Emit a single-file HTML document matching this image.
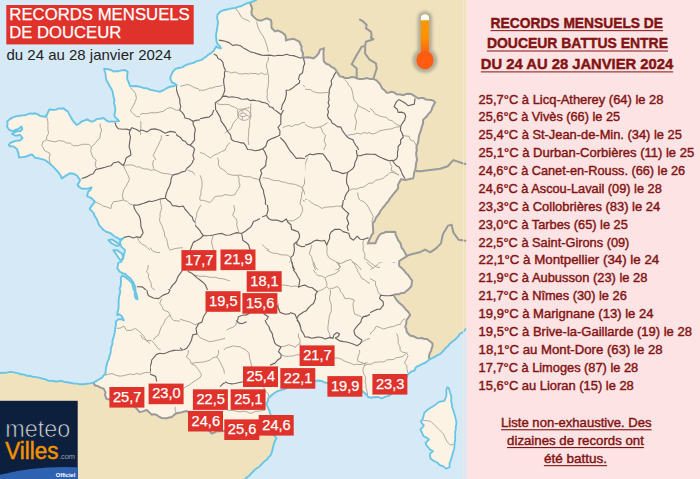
<!DOCTYPE html>
<html><head><meta charset="utf-8"><title>Records mensuels de douceur</title>
<style>html,body{margin:0;padding:0;width:700px;height:479px;overflow:hidden;background:#fde3e3;}
svg{display:block;font-family:"Liberation Sans",sans-serif;}</style></head>
<body><svg width="700" height="479" viewBox="0 0 700 479">
<rect x="0" y="0" width="470" height="479" fill="#d5e9f7"/>
<path d="M255,0 470,0 470,328 470,326 468.2,327.9 465.8,328.9 464,330.8 462.3,332.7 459.8,333.8 458.3,336.3 456.3,338.3 454.3,340.3 451.9,341.9 449.7,343.7 448.1,346.1 445.8,347.8 444,350 442.1,352.1 440.2,354.2 437.3,355.2 434.9,356.9 432.2,358.1 429.5,359.3 428.9,356.4 429.7,353.4 430.9,351.1 431.7,348.4 432.6,346 432.4,343.3 429.9,341.2 427.1,338.9 424.3,338.9 421.9,338 419.3,338.3 416.8,338 413.5,336.3 410,335.5 406.7,331.9 406.4,329.1 405.2,326.8 406.3,323.5 406.5,320 408.4,317.6 410.1,315.1 408.7,312.4 406.6,310.3 404.3,307.6 401.9,305 399.1,302.7 396.7,300.1 395,297.6 393.7,294.9 396,294.2 398.7,294.3 401.3,293.1 404,293.1 406,291.2 408.2,289.7 411.3,286.2 411.7,283.4 412.2,280.8 410,277.8 408.1,274.9 405.6,272.7 403.7,270 401.6,267.9 399.3,266.1 399.1,263.8 399.3,261 402.9,258.7 406.7,256.3 405,252.8 403.4,249.8 401.6,247.7 401,245.1 400.1,242.6 398.3,240.5 397.3,238.1 395.9,235.2 395.1,231.9 392,231.7 389,231.9 386,231.7 383.7,233.1 381.1,233.6 379.2,235.4 377.8,237.7 376.5,240.4 375.4,243.2 371.5,243.3 367.9,243.5 369.2,240.1 370.4,237.7 371.5,235.2 373.2,233.1 373.1,230.5 373.1,228 372.8,225.5 372.8,223 374.9,220.7 375.8,217.9 377.6,215.6 379.4,213.2 380.4,210.9 381.9,209 383.5,207 385.1,205.1 386.7,203 388.4,201.1 389.6,198.8 391.3,196.9 392.8,194.9 394.6,192.6 396.5,190.5 398.1,188.1 398.1,184.9 399.4,182.1 401.2,179.2 405,179.9 407.7,179.6 410.3,178.7 413.1,178.4 413.8,175.4 414.1,172.6 415.1,170 415.7,167.5 415.9,165 416.2,162.5 417.1,160.1 416.5,156.7 416.1,153.5 416.8,150.2 416.4,146.7 417.8,143.5 418.5,140.1 418.8,136.6 419.8,133.3 421,130.1 421.8,126.8 423,123.5 423.1,120 425,117.9 427,116.1 428.5,113.8 430.5,112 431.8,109.4 432.6,106.7 435.1,102.5 433.6,100.8 431.1,100.1 428.5,99.7 425.8,99.6 423.5,98.1 420.9,98 418.4,98.5 415.8,96.9 413.2,95.2 411,93.9 408.3,93.8 405.9,94.1 403.4,95.1 400.1,94.4 396.7,94.3 394.4,92.6 391.7,91.7 389.2,92.4 386.7,92.7 384.7,90.4 382.3,88.6 381,86 379.6,83.5 376.4,80.3 373.5,78.9 370,79.1 366.8,78.1 364.2,78.7 361.6,79 359.2,78.9 356.7,78.2 354.3,77.3 351.6,77.1 348.5,78.1 344.9,78.2 342.7,76.8 339.8,76.4 338.5,74 336.9,72.1 335.8,69.8 334,68 331.3,66.8 329.1,64.8 326.3,63.8 324.1,61.8 323.6,59.3 323.5,56.6 323.5,53.8 323.6,51.1 323.8,48.4 320.2,49.5 318.6,53.4 316.3,56.2 313.4,58.4 311.1,57.7 308.6,57.3 305.5,57.5 302.6,57.2 303,53.3 301.3,49.8 301.6,46.7 300.5,44.5 299.7,42 296.8,40.4 293.6,38.8 290.9,39.3 288.4,39.5 285.9,40.3 285.8,37.5 285.1,35.1 282.7,32.9 279.8,31.3 277.6,30.5 275.1,31.4 271.8,28.3 271.4,25.6 271.5,22.8 270.8,20 266.7,18.3 264,19.3 261.5,20.6 259.2,20.5 256.8,19.7 254.3,17.4 251.8,14.9 251.4,11.7 252.2,8.4 251,5.4 250.1,2.5 Z" fill="#efe2bc"/>
<path d="M0,373 2.5,372.8 5,372.9 7.5,372.4 10,371.8 12.6,372.1 15.1,372.6 17.6,373.1 20,374.2 22.5,374.3 25,374.9 27.4,376 30,375.8 32.5,376.7 35,376.9 37.5,377.4 40,377.9 42.5,378.7 45.1,379.1 47.5,380.4 50,381.1 52.5,380.6 55,381.5 57.5,381.5 60,380.8 62.5,381.2 65,382.1 67.5,382.2 70,382.7 72.5,383.3 75,383.6 77.5,383.6 80,384.3 83.4,384.2 86.7,383.8 90.1,383.4 93.4,382.6 94.9,385.3 98.6,386.4 100.8,387.9 103.5,388.3 105.5,392.1 105.1,395.1 106.4,398.7 110.2,399.8 112.7,400.2 115.1,401 117.6,401.3 120,402.1 122.9,402.5 125.5,403.9 128.4,404.5 131.2,405.3 134,406 136.1,407.9 137.8,410 139.7,412.1 143.4,411.1 146.7,410 149.1,412.3 151.6,414.4 154.3,414.3 156.7,414.9 159,416.7 161.5,418 164.1,418.3 166.7,418.2 169.2,417.5 171.8,417.1 174.1,414.9 176.6,413.3 179.3,412.7 181.9,412.2 184.3,411.5 186.8,411 189.9,414.1 191.9,415.8 194.2,416.9 196.1,418.6 198.1,420.2 200,422.1 201.7,424.2 204.2,425.5 206,427.6 208.2,429.3 209.9,431.5 211.8,433.5 214.3,432.6 216.6,431.3 220.4,431.3 224,430.7 226.7,430.9 229.3,431.2 232,431.6 234.7,431.5 237.3,431.9 240,432.3 242.5,432.4 245,432.5 247.5,432.4 250,433 252.5,433 255,432.7 257.6,432.9 260.2,433.3 262.8,434.1 265.4,433.7 268,434.2 271,434.2 274,435 276.5,438.3 275,440.9 274,443.6 273.2,446.8 272.4,450 271.6,452.8 270.5,455.4 268.4,457.5 266.6,459.8 264.5,461.3 262.7,463.2 260.9,465 259.2,467 256.9,468.2 254.7,469.7 253,471.8 251,473.6 249.3,475.7 247.1,477.3 245,479 0,479 Z" fill="#efe2bc"/>
<path d="M250.1,2.5 251,5.4 252.2,8.4 251.4,11.7 251.8,14.9 254.3,17.4 256.8,19.7 259.2,20.5 261.5,20.6 264,19.3 266.7,18.3 270.8,20 271.5,22.8 271.4,25.6 271.8,28.3 275.1,31.4 277.6,30.5 279.8,31.3 282.7,32.9 285.1,35.1 285.8,37.5 285.9,40.3 288.4,39.5 290.9,39.3 293.6,38.8 296.8,40.4 299.7,42 300.5,44.5 301.6,46.7 301.3,49.8 303,53.3 302.6,57.2 305.5,57.5 308.6,57.3 311.1,57.7 313.4,58.4 316.3,56.2 318.6,53.4 320.2,49.5 323.8,48.4 323.6,51.1 323.5,53.8 323.5,56.6 323.6,59.3 324.1,61.8 326.3,63.8 329.1,64.8 331.3,66.8 334,68 335.8,69.8 336.9,72.1 338.5,74 339.8,76.4 342.7,76.8 344.9,78.2 348.5,78.1 351.6,77.1 354.3,77.3 356.7,78.2 359.2,78.9 361.6,79 364.2,78.7 366.8,78.1 370,79.1 373.5,78.9 376.4,80.3 379.6,83.5 381,86 382.3,88.6 384.7,90.4 386.7,92.7 389.2,92.4 391.7,91.7 394.4,92.6 396.7,94.3 400.1,94.4 403.4,95.1 405.9,94.1 408.3,93.8 411,93.9 413.2,95.2 415.8,96.9 418.4,98.5 420.9,98 423.5,98.1 425.8,99.6 428.5,99.7 431.1,100.1 433.6,100.8 435.1,102.5 432.6,106.7 431.8,109.4 430.5,112 428.5,113.8 427,116.1 425,117.9 423.1,120 423,123.5 421.8,126.8 421,130.1 419.8,133.3 418.8,136.6 418.5,140.1 417.8,143.5 416.4,146.7 416.8,150.2 416.1,153.5 416.5,156.7 417.1,160.1 416.2,162.5 415.9,165 415.7,167.5 415.1,170 414.1,172.6 413.8,175.4 413.1,178.4 410.3,178.7 407.7,179.6 405,179.9 401.2,179.2 399.4,182.1 398.1,184.9 398.1,188.1 396.5,190.5 394.6,192.6 392.8,194.9 391.3,196.9 389.6,198.8 388.4,201.1 386.7,203 385.1,205.1 383.5,207 381.9,209 380.4,210.9 379.4,213.2 377.6,215.6 375.8,217.9 374.9,220.7 372.8,223 372.8,225.5 373.1,228 373.1,230.5 373.2,233.1 371.5,235.2 370.4,237.7 369.2,240.1 367.9,243.5 371.5,243.3 375.4,243.2 376.5,240.4 377.8,237.7 379.2,235.4 381.1,233.6 383.7,233.1 386,231.7 389,231.9 392,231.7 395.1,231.9 395.9,235.2 397.3,238.1 398.3,240.5 400.1,242.6 401,245.1 401.6,247.7 403.4,249.8 405,252.8 406.7,256.3 402.9,258.7 399.3,261 399.1,263.8 399.3,266.1 401.6,267.9 403.7,270 405.6,272.7 408.1,274.9 410,277.8 412.2,280.8 411.7,283.4 411.3,286.2 408.2,289.7 406,291.2 404,293.1 401.3,293.1 398.7,294.3 396,294.2 393.7,294.9 395,297.6 396.7,300.1 399.1,302.7 401.9,305 404.3,307.6 406.6,310.3 408.7,312.4 410.1,315.1 408.4,317.6 406.5,320 406.3,323.5 405.2,326.8 406.4,329.1 406.7,331.9 410,335.5 413.5,336.3 416.8,338 419.3,338.3 421.9,338 424.3,338.9 427.1,338.9 429.9,341.2 432.4,343.3 432.6,346 431.7,348.4 430.9,351.1 429.7,353.4 428.9,356.4 429.5,359.3 426.9,361.6 424.8,363 422.4,363.8 419.3,365.6 416.2,366.8 414.4,370.5 411.7,371.4 409.5,372.9 407.8,374.6 406.5,377.4 404.8,379.8 403.6,382.2 401.6,383.9 400.2,386.2 397.6,388 395.6,390.3 393.8,392.6 391,394.1 388.4,395.9 384.9,396.8 381.8,398.4 378.5,397.1 375.9,397 373.5,397.3 370.8,397.7 368.2,397 365.2,393.3 362.7,391.6 360.3,389.9 357.8,388.3 355.2,386.9 352.5,385.6 350.1,383.5 347.4,383.8 345,383.1 342.5,382.3 340,381.8 337,382.3 333.9,382.7 330.9,382.8 328.1,383.2 324.5,382.4 321.5,380.9 318.1,380.5 314.9,381 312.5,382.2 309.9,382.8 307.2,383.1 304.7,384 302.2,385 299.5,385.4 296.8,385.9 294.1,386.2 291.5,387.1 288.9,387.4 286.5,388 284.2,389.3 281.8,389.9 279.3,390.7 276.6,391.5 274.2,393.2 271.8,395 268.2,398.3 268.1,401 266.4,403.5 267.2,406 268.2,408.5 269.5,410.8 270,413.4 271.5,416.6 272.1,420 272.6,422.6 272.6,425.3 273.2,428 273.9,431.4 274,435 271,434.2 268,434.2 265.4,433.7 262.8,434.1 260.2,433.3 257.6,432.9 255,432.7 252.5,433 250,433 247.5,432.4 245,432.5 242.5,432.4 240,432.3 237.3,431.9 234.7,431.5 232,431.6 229.3,431.2 226.7,430.9 224,430.7 220.4,431.3 216.6,431.3 214.3,432.6 211.8,433.5 209.9,431.5 208.2,429.3 206,427.6 204.2,425.5 201.7,424.2 200,422.1 198.1,420.2 196.1,418.6 194.2,416.9 191.9,415.8 189.9,414.1 186.8,411 184.3,411.5 181.9,412.2 179.3,412.7 176.6,413.3 174.1,414.9 171.8,417.1 169.2,417.5 166.7,418.2 164.1,418.3 161.5,418 159,416.7 156.7,414.9 154.3,414.3 151.6,414.4 149.1,412.3 146.7,410 143.4,411.1 139.7,412.1 137.8,410 136.1,407.9 134,406 131.2,405.3 128.4,404.5 125.5,403.9 122.9,402.5 120,402.1 117.6,401.3 115.1,401 112.7,400.2 110.2,399.8 106.4,398.7 105.1,395.1 105.5,392.1 103.5,388.3 100.8,387.9 98.6,386.4 94.9,385.3 93.4,382.6 96.7,380.9 99.2,379.2 102,377.8 103.5,375.6 105.5,373.5 105.7,370 106.3,366.6 107,364.1 107.5,361.6 108.8,359.3 109.4,356.7 110.1,354.3 110.8,351.8 110.8,349.1 111.4,346.6 112.5,344 112.4,341.1 113.2,338.4 114.1,335.2 114.8,332 115,329.4 115.5,326.9 116,324.4 115.8,321.7 118.4,319.1 121.4,319.2 123.9,320.3 121.7,316.1 119.1,314.2 117.3,315.1 117.5,312.3 118.3,309.6 118.6,306.8 118.7,304 118.6,301.2 118.9,298.4 119.2,295.9 120,293.4 120.3,290.9 119.6,288.4 120.7,285.9 120.9,283.4 121,280.9 120.7,278.3 122.3,275.4 124.9,276.9 128.7,279.8 132.2,283.3 132.8,286.1 133.4,289 134.8,291.6 134.7,295.2 135.8,298.6 137.6,299.3 136.8,295.1 135.6,291.8 135.3,288.3 134.5,285 133.1,282 130.3,278.2 127.5,276.4 125.3,273.8 122.5,273.1 119.9,271.9 117.3,268.4 117.8,265.9 118.2,263 121.4,261.6 123.4,257 124.3,253.6 125.1,250.1 121.5,246.9 120.5,244.5 119.9,241.6 123.3,238.1 119.9,239.6 117.7,237.9 115.1,236.8 112.7,235 110.3,233 106.6,232 103.6,230 101.3,227.6 99.1,225.1 97.9,221.8 96.5,218.6 94.7,216.1 93.7,213.1 91.8,211.2 89.7,209.1 91.9,205.3 94.9,201.9 91.8,198.3 89.2,197.1 87,196 88.3,191.6 90.4,189.9 91.6,187.3 88.4,188.5 85.1,188.8 81.5,188.6 79.4,187 77.5,185 79,182.6 80.2,179.8 78.5,177.9 76.8,175.3 73.5,173.7 70,173.2 66.7,175.1 64.2,176.7 61.9,178.5 60.3,175 58.5,172.6 56.6,170.3 53.3,166.9 50,163.7 46.7,161.2 44.4,159.8 41.9,159.1 38.5,158.3 35.1,157.6 31.7,154.3 28.6,155.5 25.1,156.8 22.1,157.1 19.1,157.6 18.4,153.4 17,148.9 13.5,146.4 10.8,146.4 8.8,145.3 10.1,142.9 12.6,142 15,141.2 17.5,140.6 19.7,140.6 22.6,138.3 20,134.8 17.5,135.5 14.8,135.5 11.9,133.8 15.1,132.1 17.5,131.1 20.2,131.2 22.3,129.3 21.5,126.4 18.6,128.8 15.9,129.6 13.3,131.2 9.3,130 7,126.7 7.6,124.2 7.2,121.4 10,119.1 12.3,117.6 15,116.6 17.4,116 20,115.7 22.5,115.4 25.1,115.2 27.6,114.3 30.1,113.4 32.6,113.8 35.1,113.3 37.8,114.3 40.1,116.1 42.6,116.2 45.4,117 47.5,113.4 49.3,109.5 53.4,109.9 56.1,109.6 58.5,108.4 61,108.7 63.6,108.3 65.5,110.1 68,111.5 69.1,114.1 70.4,116.5 71.9,119.1 73.6,121.6 76.7,125 79.3,123.5 81.6,121.5 84.1,120.6 86.9,119.5 89.3,120.5 91.6,121.6 94.4,120.8 96.7,118.9 100,118.7 103.7,118 105.9,120.1 108.4,121.6 111.8,121.5 115.1,121.6 119.1,121.1 117.1,118.9 114.8,116.9 114.4,115.1 115,111.8 115.4,108.4 114.6,105.6 114,102.9 114.5,100 113.6,97.3 113.1,94.5 112.6,91.6 111.5,89.1 110,86.7 108.3,83.4 106.3,80.1 105.8,76.8 105.5,73.5 104.7,71 104.1,68.8 108.4,69.3 111.1,70 113.4,71.5 115.9,71.2 118.4,71.2 121.7,70.4 125.1,70 127.8,71.7 127.3,74.2 127.1,76.6 127.3,79.3 128.4,81.7 130.1,86.1 132.9,86.2 135.7,86 138.4,86.5 141.2,87.1 143.9,88.1 146.8,88.3 150,89.7 153.3,90.4 156.7,91.1 160.1,91.7 163.5,90.2 166.7,88.2 170,86.8 173.6,86.2 176.8,85.1 174.5,83.4 172,82.5 170.2,78.4 170.9,75.9 171.9,73.5 173.3,71.1 175.2,69.1 177.5,68.2 180.1,67.8 182.6,67.2 184.8,65.6 187.6,64.4 190.5,63.6 193.5,62.8 196.1,61.4 199,60.6 201.9,59.7 204,58 206.3,56.6 208.2,54.8 211,53.1 213.5,51 216.1,46.5 218.4,47.9 221,48.3 219.6,46 217.7,44.3 216.5,41.4 216.3,38.4 216,35.6 216.3,32.9 217,30.1 217.3,27.3 217.7,24.5 218,21.7 217.1,18.4 217.4,14.8 220.1,11.8 223.4,10.2 226.9,9.5 229.6,8.9 232.4,8.3 235.2,7.9 238,6.9 240.8,6.3 243.5,5 246.7,3.4 250.1,2.5 Z" fill="#fdf3e5"/>
<path d="M447.3,387.2 449,388.4 449.9,392.5 450.9,395.1 451.4,397.9 451.1,400.8 451.8,403.8 452.1,407 453.3,410.1 454.1,413.2 455,415.9 455.6,418.6 456.2,421.3 456.4,423.9 455.7,426.5 455.9,429.1 455.1,431.7 455.3,434.3 455,436.8 455.3,439.5 454.8,442 454.5,444.8 454.4,447.6 453.7,450.4 452.7,453.5 451.9,456.6 450.6,460.6 449.5,463.6 449.6,467 446.4,468.7 443.5,466.4 439.8,465.2 437.1,462.5 433.7,460.9 430.5,458.6 430.1,456 430,453.7 433.1,451 430.6,450.1 428.9,448.1 426.8,445.8 425.5,442.9 429,439.5 426.4,437.6 423.3,436 422.1,432.7 420.4,429.6 422.2,427.7 423.9,425.3 422.1,423.4 420.8,421.6 422.4,419.5 423.3,417.1 424.3,412.8 426.4,410.8 428.7,408.9 431.9,407 435.1,405.1 437.1,403.4 439.1,401.9 441.7,401.3 444.3,400.8 446.2,396.5 446.5,393.4 446.3,390.3 Z" fill="#fdf3e5"/>
<path d="M422.5,420.3 430.8,421.3 434.9,425.5 439.1,429.6 443.2,433.7 447.3,442 450.4,445.1 454.6,444.1" fill="none" stroke="#aba397" stroke-width="0.9"/>
<path d="M447.3,387.2 449,388.4 449.9,392.5 450.9,395.1 451.4,397.9 451.1,400.8 451.8,403.8 452.1,407 453.3,410.1 454.1,413.2 455,415.9 455.6,418.6 456.2,421.3 456.4,423.9 455.7,426.5 455.9,429.1 455.1,431.7 455.3,434.3 455,436.8 455.3,439.5 454.8,442 454.5,444.8 454.4,447.6 453.7,450.4 452.7,453.5 451.9,456.6 450.6,460.6 449.5,463.6 449.6,467 446.4,468.7 443.5,466.4 439.8,465.2 437.1,462.5 433.7,460.9 430.5,458.6 430.1,456 430,453.7 433.1,451 430.6,450.1 428.9,448.1 426.8,445.8 425.5,442.9 429,439.5 426.4,437.6 423.3,436 422.1,432.7 420.4,429.6 422.2,427.7 423.9,425.3 422.1,423.4 420.8,421.6 422.4,419.5 423.3,417.1 424.3,412.8 426.4,410.8 428.7,408.9 431.9,407 435.1,405.1 437.1,403.4 439.1,401.9 441.7,401.3 444.3,400.8 446.2,396.5 446.5,393.4 446.3,390.3 Z" fill="none" stroke="#69c5e6" stroke-width="1.8" stroke-linejoin="round"/>
<path d="M108.4,240.1 111.8,239.3 116.8,242.6 120.1,245.1 116.8,246 111.8,243.5 Z" fill="#fdf3e5" stroke="#69c5e6" stroke-width="1.9" stroke-linejoin="round"/>
<path d="M113.4,250.1 116.8,250.1 121.8,253.5 123.4,258.5 120.1,260 116.8,255.2 Z" fill="#fdf3e5" stroke="#69c5e6" stroke-width="1.9" stroke-linejoin="round"/>
<defs><clipPath id="c_uA"><rect x="140" y="135" width="60" height="25"/><rect x="176" y="40" width="24" height="95"/></clipPath><clipPath id="c_uA2"><rect x="140" y="40" width="36" height="95"/><rect x="100" y="40" width="40" height="70"/></clipPath><clipPath id="c_uB"><rect x="200" y="0" width="50" height="110"/><rect x="250" y="80" width="55" height="30"/></clipPath><clipPath id="c_uB2"><rect x="250" y="0" width="80" height="80"/></clipPath><clipPath id="c_uC"><rect x="330" y="40" width="136" height="40"/><rect x="305" y="80" width="65" height="70"/></clipPath><clipPath id="c_uC2"><rect x="370" y="80" width="96" height="70"/></clipPath><clipPath id="c_uD"><rect x="0" y="180" width="60" height="45"/><rect x="60" y="190" width="30" height="35"/></clipPath><clipPath id="c_uD2"><rect x="0" y="95" width="60" height="85"/><rect x="60" y="95" width="20" height="15"/></clipPath><clipPath id="c_uD3"><rect x="80" y="110" width="60" height="80"/><rect x="60" y="110" width="20" height="80"/></clipPath><clipPath id="c_uE"><rect x="140" y="160" width="55" height="30"/><rect x="150" y="190" width="45" height="75"/><rect x="90" y="260" width="60" height="5"/></clipPath><clipPath id="c_uE2"><rect x="70" y="190" width="80" height="70"/></clipPath><clipPath id="c_uF"><rect x="197" y="110" width="108" height="95"/></clipPath><clipPath id="c_uG"><rect x="305" y="150" width="161" height="50"/><rect x="380" y="200" width="86" height="62"/></clipPath><clipPath id="c_uH"><rect x="170" y="265" width="20" height="25"/></clipPath><clipPath id="c_uH2"><rect x="90" y="265" width="80" height="25"/><rect x="90" y="290" width="20" height="45"/></clipPath><clipPath id="c_uI1"><rect x="195" y="205" width="67" height="45"/><rect x="195" y="250" width="35" height="20"/></clipPath><clipPath id="c_uI2"><rect x="262" y="205" width="43" height="45"/><rect x="290" y="250" width="15" height="20"/></clipPath><clipPath id="c_uJ"><rect x="190" y="270" width="40" height="20"/></clipPath><clipPath id="c_uK"><rect x="292" y="262" width="174" height="8"/><rect x="440" y="270" width="26" height="65"/><rect x="292" y="270" width="-2" height="65"/></clipPath><clipPath id="c_uL"></clipPath><clipPath id="c_uL2"><rect x="70" y="350" width="80" height="100"/><rect x="110" y="335" width="40" height="15"/></clipPath><clipPath id="c_uM"><rect x="300" y="350" width="20" height="80"/><rect x="225" y="400" width="75" height="30"/></clipPath><clipPath id="c_uN"><rect x="370" y="340" width="96" height="90"/><rect x="320" y="350" width="50" height="80"/></clipPath><clipPath id="c_uO"><rect x="400" y="380" width="66" height="99"/></clipPath><clipPath id="c_uP1"><rect x="110" y="290" width="70" height="60"/></clipPath><clipPath id="c_uP2"><rect x="180" y="290" width="45" height="60"/></clipPath><clipPath id="c_uP3"><rect x="150" y="350" width="75" height="75"/></clipPath><clipPath id="c_uP4"><rect x="225" y="320" width="75" height="80"/></clipPath><clipPath id="c_uQ1"><rect x="290" y="270" width="80" height="80"/></clipPath><clipPath id="c_uQ2"><rect x="370" y="270" width="70" height="70"/></clipPath><clipPath id="c_uQ3"><rect x="305" y="200" width="75" height="70"/></clipPath><clipPath id="c_uQ4"><rect x="230" y="250" width="60" height="70"/><rect x="262" y="250" width="28" height="12"/></clipPath><clipPath id="c_uR"><rect x="210" y="95" width="50" height="50"/></clipPath><clipPath id="fr"><path d="M250.1,2.5 251,5.4 252.2,8.4 251.4,11.7 251.8,14.9 254.3,17.4 256.8,19.7 259.2,20.5 261.5,20.6 264,19.3 266.7,18.3 270.8,20 271.5,22.8 271.4,25.6 271.8,28.3 275.1,31.4 277.6,30.5 279.8,31.3 282.7,32.9 285.1,35.1 285.8,37.5 285.9,40.3 288.4,39.5 290.9,39.3 293.6,38.8 296.8,40.4 299.7,42 300.5,44.5 301.6,46.7 301.3,49.8 303,53.3 302.6,57.2 305.5,57.5 308.6,57.3 311.1,57.7 313.4,58.4 316.3,56.2 318.6,53.4 320.2,49.5 323.8,48.4 323.6,51.1 323.5,53.8 323.5,56.6 323.6,59.3 324.1,61.8 326.3,63.8 329.1,64.8 331.3,66.8 334,68 335.8,69.8 336.9,72.1 338.5,74 339.8,76.4 342.7,76.8 344.9,78.2 348.5,78.1 351.6,77.1 354.3,77.3 356.7,78.2 359.2,78.9 361.6,79 364.2,78.7 366.8,78.1 370,79.1 373.5,78.9 376.4,80.3 379.6,83.5 381,86 382.3,88.6 384.7,90.4 386.7,92.7 389.2,92.4 391.7,91.7 394.4,92.6 396.7,94.3 400.1,94.4 403.4,95.1 405.9,94.1 408.3,93.8 411,93.9 413.2,95.2 415.8,96.9 418.4,98.5 420.9,98 423.5,98.1 425.8,99.6 428.5,99.7 431.1,100.1 433.6,100.8 435.1,102.5 432.6,106.7 431.8,109.4 430.5,112 428.5,113.8 427,116.1 425,117.9 423.1,120 423,123.5 421.8,126.8 421,130.1 419.8,133.3 418.8,136.6 418.5,140.1 417.8,143.5 416.4,146.7 416.8,150.2 416.1,153.5 416.5,156.7 417.1,160.1 416.2,162.5 415.9,165 415.7,167.5 415.1,170 414.1,172.6 413.8,175.4 413.1,178.4 410.3,178.7 407.7,179.6 405,179.9 401.2,179.2 399.4,182.1 398.1,184.9 398.1,188.1 396.5,190.5 394.6,192.6 392.8,194.9 391.3,196.9 389.6,198.8 388.4,201.1 386.7,203 385.1,205.1 383.5,207 381.9,209 380.4,210.9 379.4,213.2 377.6,215.6 375.8,217.9 374.9,220.7 372.8,223 372.8,225.5 373.1,228 373.1,230.5 373.2,233.1 371.5,235.2 370.4,237.7 369.2,240.1 367.9,243.5 371.5,243.3 375.4,243.2 376.5,240.4 377.8,237.7 379.2,235.4 381.1,233.6 383.7,233.1 386,231.7 389,231.9 392,231.7 395.1,231.9 395.9,235.2 397.3,238.1 398.3,240.5 400.1,242.6 401,245.1 401.6,247.7 403.4,249.8 405,252.8 406.7,256.3 402.9,258.7 399.3,261 399.1,263.8 399.3,266.1 401.6,267.9 403.7,270 405.6,272.7 408.1,274.9 410,277.8 412.2,280.8 411.7,283.4 411.3,286.2 408.2,289.7 406,291.2 404,293.1 401.3,293.1 398.7,294.3 396,294.2 393.7,294.9 395,297.6 396.7,300.1 399.1,302.7 401.9,305 404.3,307.6 406.6,310.3 408.7,312.4 410.1,315.1 408.4,317.6 406.5,320 406.3,323.5 405.2,326.8 406.4,329.1 406.7,331.9 410,335.5 413.5,336.3 416.8,338 419.3,338.3 421.9,338 424.3,338.9 427.1,338.9 429.9,341.2 432.4,343.3 432.6,346 431.7,348.4 430.9,351.1 429.7,353.4 428.9,356.4 429.5,359.3 426.9,361.6 424.8,363 422.4,363.8 419.3,365.6 416.2,366.8 414.4,370.5 411.7,371.4 409.5,372.9 407.8,374.6 406.5,377.4 404.8,379.8 403.6,382.2 401.6,383.9 400.2,386.2 397.6,388 395.6,390.3 393.8,392.6 391,394.1 388.4,395.9 384.9,396.8 381.8,398.4 378.5,397.1 375.9,397 373.5,397.3 370.8,397.7 368.2,397 365.2,393.3 362.7,391.6 360.3,389.9 357.8,388.3 355.2,386.9 352.5,385.6 350.1,383.5 347.4,383.8 345,383.1 342.5,382.3 340,381.8 337,382.3 333.9,382.7 330.9,382.8 328.1,383.2 324.5,382.4 321.5,380.9 318.1,380.5 314.9,381 312.5,382.2 309.9,382.8 307.2,383.1 304.7,384 302.2,385 299.5,385.4 296.8,385.9 294.1,386.2 291.5,387.1 288.9,387.4 286.5,388 284.2,389.3 281.8,389.9 279.3,390.7 276.6,391.5 274.2,393.2 271.8,395 268.2,398.3 268.1,401 266.4,403.5 267.2,406 268.2,408.5 269.5,410.8 270,413.4 271.5,416.6 272.1,420 272.6,422.6 272.6,425.3 273.2,428 273.9,431.4 274,435 271,434.2 268,434.2 265.4,433.7 262.8,434.1 260.2,433.3 257.6,432.9 255,432.7 252.5,433 250,433 247.5,432.4 245,432.5 242.5,432.4 240,432.3 237.3,431.9 234.7,431.5 232,431.6 229.3,431.2 226.7,430.9 224,430.7 220.4,431.3 216.6,431.3 214.3,432.6 211.8,433.5 209.9,431.5 208.2,429.3 206,427.6 204.2,425.5 201.7,424.2 200,422.1 198.1,420.2 196.1,418.6 194.2,416.9 191.9,415.8 189.9,414.1 186.8,411 184.3,411.5 181.9,412.2 179.3,412.7 176.6,413.3 174.1,414.9 171.8,417.1 169.2,417.5 166.7,418.2 164.1,418.3 161.5,418 159,416.7 156.7,414.9 154.3,414.3 151.6,414.4 149.1,412.3 146.7,410 143.4,411.1 139.7,412.1 137.8,410 136.1,407.9 134,406 131.2,405.3 128.4,404.5 125.5,403.9 122.9,402.5 120,402.1 117.6,401.3 115.1,401 112.7,400.2 110.2,399.8 106.4,398.7 105.1,395.1 105.5,392.1 103.5,388.3 100.8,387.9 98.6,386.4 94.9,385.3 93.4,382.6 96.7,380.9 99.2,379.2 102,377.8 103.5,375.6 105.5,373.5 105.7,370 106.3,366.6 107,364.1 107.5,361.6 108.8,359.3 109.4,356.7 110.1,354.3 110.8,351.8 110.8,349.1 111.4,346.6 112.5,344 112.4,341.1 113.2,338.4 114.1,335.2 114.8,332 115,329.4 115.5,326.9 116,324.4 115.8,321.7 118.4,319.1 121.4,319.2 123.9,320.3 121.7,316.1 119.1,314.2 117.3,315.1 117.5,312.3 118.3,309.6 118.6,306.8 118.7,304 118.6,301.2 118.9,298.4 119.2,295.9 120,293.4 120.3,290.9 119.6,288.4 120.7,285.9 120.9,283.4 121,280.9 120.7,278.3 122.3,275.4 124.9,276.9 128.7,279.8 132.2,283.3 132.8,286.1 133.4,289 134.8,291.6 134.7,295.2 135.8,298.6 137.6,299.3 136.8,295.1 135.6,291.8 135.3,288.3 134.5,285 133.1,282 130.3,278.2 127.5,276.4 125.3,273.8 122.5,273.1 119.9,271.9 117.3,268.4 117.8,265.9 118.2,263 121.4,261.6 123.4,257 124.3,253.6 125.1,250.1 121.5,246.9 120.5,244.5 119.9,241.6 123.3,238.1 119.9,239.6 117.7,237.9 115.1,236.8 112.7,235 110.3,233 106.6,232 103.6,230 101.3,227.6 99.1,225.1 97.9,221.8 96.5,218.6 94.7,216.1 93.7,213.1 91.8,211.2 89.7,209.1 91.9,205.3 94.9,201.9 91.8,198.3 89.2,197.1 87,196 88.3,191.6 90.4,189.9 91.6,187.3 88.4,188.5 85.1,188.8 81.5,188.6 79.4,187 77.5,185 79,182.6 80.2,179.8 78.5,177.9 76.8,175.3 73.5,173.7 70,173.2 66.7,175.1 64.2,176.7 61.9,178.5 60.3,175 58.5,172.6 56.6,170.3 53.3,166.9 50,163.7 46.7,161.2 44.4,159.8 41.9,159.1 38.5,158.3 35.1,157.6 31.7,154.3 28.6,155.5 25.1,156.8 22.1,157.1 19.1,157.6 18.4,153.4 17,148.9 13.5,146.4 10.8,146.4 8.8,145.3 10.1,142.9 12.6,142 15,141.2 17.5,140.6 19.7,140.6 22.6,138.3 20,134.8 17.5,135.5 14.8,135.5 11.9,133.8 15.1,132.1 17.5,131.1 20.2,131.2 22.3,129.3 21.5,126.4 18.6,128.8 15.9,129.6 13.3,131.2 9.3,130 7,126.7 7.6,124.2 7.2,121.4 10,119.1 12.3,117.6 15,116.6 17.4,116 20,115.7 22.5,115.4 25.1,115.2 27.6,114.3 30.1,113.4 32.6,113.8 35.1,113.3 37.8,114.3 40.1,116.1 42.6,116.2 45.4,117 47.5,113.4 49.3,109.5 53.4,109.9 56.1,109.6 58.5,108.4 61,108.7 63.6,108.3 65.5,110.1 68,111.5 69.1,114.1 70.4,116.5 71.9,119.1 73.6,121.6 76.7,125 79.3,123.5 81.6,121.5 84.1,120.6 86.9,119.5 89.3,120.5 91.6,121.6 94.4,120.8 96.7,118.9 100,118.7 103.7,118 105.9,120.1 108.4,121.6 111.8,121.5 115.1,121.6 119.1,121.1 117.1,118.9 114.8,116.9 114.4,115.1 115,111.8 115.4,108.4 114.6,105.6 114,102.9 114.5,100 113.6,97.3 113.1,94.5 112.6,91.6 111.5,89.1 110,86.7 108.3,83.4 106.3,80.1 105.8,76.8 105.5,73.5 104.7,71 104.1,68.8 108.4,69.3 111.1,70 113.4,71.5 115.9,71.2 118.4,71.2 121.7,70.4 125.1,70 127.8,71.7 127.3,74.2 127.1,76.6 127.3,79.3 128.4,81.7 130.1,86.1 132.9,86.2 135.7,86 138.4,86.5 141.2,87.1 143.9,88.1 146.8,88.3 150,89.7 153.3,90.4 156.7,91.1 160.1,91.7 163.5,90.2 166.7,88.2 170,86.8 173.6,86.2 176.8,85.1 174.5,83.4 172,82.5 170.2,78.4 170.9,75.9 171.9,73.5 173.3,71.1 175.2,69.1 177.5,68.2 180.1,67.8 182.6,67.2 184.8,65.6 187.6,64.4 190.5,63.6 193.5,62.8 196.1,61.4 199,60.6 201.9,59.7 204,58 206.3,56.6 208.2,54.8 211,53.1 213.5,51 216.1,46.5 218.4,47.9 221,48.3 219.6,46 217.7,44.3 216.5,41.4 216.3,38.4 216,35.6 216.3,32.9 217,30.1 217.3,27.3 217.7,24.5 218,21.7 217.1,18.4 217.4,14.8 220.1,11.8 223.4,10.2 226.9,9.5 229.6,8.9 232.4,8.3 235.2,7.9 238,6.9 240.8,6.3 243.5,5 246.7,3.4 250.1,2.5 Z"/></clipPath></defs>
<g clip-path="url(#fr)">
<g fill="none" stroke="#aba397" stroke-width="0.95" stroke-linejoin="round" clip-path="url(#c_uA)"><path d="M130.1,87.6 131.3,90.4 132.9,93 134.7,95.2 136.1,98.9 138.2,103 136.2,105.3 134.3,107.6 132.8,110.3 130.4,112.1 132.7,114.1 134.8,116.4 138,117.4 139.3,122.6 140.9,127.4 141.3,131.4"/><path d="M130.1,112.6 133.3,113.7 136.2,115.5 139.3,116.8 142.4,116.7 145.4,116.2 148.4,115.4 151.6,115.5 154.4,113.9 157.6,113.7 160.8,112.7 164.1,111.5 167.6,111.2 172,110.6 176.4,110.2 180.2,110.1"/><path d="M180.2,86.3 183.9,85.4 187.9,84.4 191.5,86.1 195,87.9 198.2,88.7 200.2,91.3 203.6,88.7 207.9,88.2 211.3,85.8 215.2,85.2 220,87.6"/><path d="M161.4,135.2 161.3,138.7 159.7,141.8 158.4,145 156.6,148.2 155.1,151.6 153.2,155.3 155.4,158.8 154.7,162.3 153.2,165.8 150.1,167.7"/><path d="M125.1,164 128.4,165.1 131.7,165.7 135,165.6 138.4,165.8 141.7,166.5 145.2,165.8 148.4,167.5 151.9,166.6 155.1,167.7"/></g>
<g fill="none" stroke="#aba397" stroke-width="0.95" stroke-linejoin="round" clip-path="url(#c_uA2)"><path d="M130.1,87.6 133,90.2 135.5,93.3 136.4,98.3 135.2,101.8 133.6,105.2 131.7,108.4 129.8,112.1 132.2,114.7 134.7,117.2 137.9,119 140.9,121.8 140.8,125.2 140.8,128.4 140.1,131.8 140.9,135"/><path d="M130.1,111.8 134.5,112.8 138.5,115.6 142.4,113.4 146.8,113.8 150.9,112.6 155.2,112.9 159.4,112.2 163.6,111.2 166.5,108.9 170.2,107.5 173.4,108.8 176.6,110.3 180,110.1"/></g>
<g fill="none" stroke="#aba397" stroke-width="0.95" stroke-linejoin="round" clip-path="url(#c_uB)"><path d="M235.1,7.5 236.8,10 238.8,12.3 240.1,15 242.2,17.9 245.3,19.5 248.5,20.6 251.1,23.2 254.5,23.7 257.7,25.1 260.4,30 261.8,33.7 262.1,38 264.1,40.4 266.8,42.7 265.4,46.3 264.5,50.5 267.6,53.9"/><path d="M225.1,71.4 228.5,71.7 231.7,73.1 235.2,71.9 238.4,73.6 241.7,74.1 245.2,73.5 248.5,73.9 251.8,74.4 255,74.5 258.3,75.4 261.4,74.9 264.5,74.7 267.6,73.9"/><path d="M270.1,56.4 269,59.2 268.8,62.3 268.3,65 268.5,68.4 268,71.9 269.8,75.3 268.5,78.3 268.6,81.5 268.3,84.6 267.9,87.7 267,91 267.4,94.4 266.9,97.3 267.7,100.6 270.1,102.7"/><path d="M302.7,85.2 305.8,87.3 309.5,88.3 312.8,89.8 316.3,91.6 320,92.7"/><path d="M200,90.2 203.3,90.3 206.4,89.5 209.4,88.2 212.6,87.9 215.8,86.6 219.3,86.4 222.5,85.2"/></g>
<g fill="none" stroke="#aba397" stroke-width="0.95" stroke-linejoin="round" clip-path="url(#c_uB2)"><path d="M256.7,21.7 257.5,25.9 259,29.5 260.7,32.8 262.7,35.3 264.2,38.4 265.6,41.6 267,46.7 268.4,51.8"/><path d="M268.4,56.8 268.4,60.2 266.7,63.4 266.3,66.9 267.5,70.1 267.9,73.4 268.6,76.6 268.4,80"/><path d="M245,71.8 248.4,72.1 251.6,73.5 255,73.5 258.4,74.3 261.5,72.8 264.4,74.5 267.5,73.8"/></g>
<g fill="none" stroke="#aba397" stroke-width="0.95" stroke-linejoin="round" clip-path="url(#c_uC)"><path d="M300,86.3 303.1,88.3 306.5,89.4 310.2,89.5 313.2,91.6 316.5,92.6 320,93 324.4,92.6 328.8,92.6"/><path d="M345.1,80.1 347.4,82.4 348.8,85.5 351.2,87.6 352.1,90.9 352.9,94.2 353.3,97.1 354,100.3 356.2,102.4 358.2,105.3 357.1,108.6 356,111.8 354.5,115.3 355.6,118.5 356.6,121.8 355.8,125.1 355.1,130.2"/><path d="M357.6,105.1 361.2,107.3 365.1,109 368.5,111.4 372.7,112.4 376.1,114.1 379.7,115.3 382.6,118 386.4,119.2 389.8,120.9 393.2,121.1 395.3,123.4 397.7,125.2"/><path d="M347.6,135.2 350.9,134.7 354.2,134.2 357.5,133.1 360.8,134.2 363.8,132.5 367,133.3 370,132.4 373.4,131.7 377,131.6 380,129.7 384,129 387.7,127.3 390.8,127.6 394,127.1 397.1,127 400.2,126.4"/><path d="M300,120.2 302.9,121.5 304.9,124.1 307.3,126.1 309.9,126.9 313.4,128.1 316.7,127.5 320.2,126.9 324,125 327.6,122.7"/><path d="M320,126.4 321.7,129.3 322.8,132.6 325.7,135.2 324.7,138.3 324.2,141.4 325.9,144.6 324.8,147.6 323,151.2 322.5,155.2"/><path d="M402.7,135.2 405.6,136.3 407.6,138.6 410,140.9 414.1,141 417.7,142.7"/></g>
<g fill="none" stroke="#aba397" stroke-width="0.95" stroke-linejoin="round" clip-path="url(#c_uC2)"><path d="M370,108.4 372.9,110.5 374.9,113.8 377.6,115 380.3,116.3 383.3,116.9 386.5,117.4 388.7,120 391.9,120.6 394.4,122.7 397.1,124.6 400.1,125.9"/><path d="M370,133.4 373.5,133.9 376.7,132.7 379.8,130.8 383.4,130.1 387.6,129.3 391.8,128.8 395.8,127.1 400.1,126.8"/><path d="M402.6,135.1 405.5,136 409,136.2 410.3,139.9 414.1,141.3 415.9,145.1"/></g>
<g fill="none" stroke="#aba397" stroke-width="0.95" stroke-linejoin="round" clip-path="url(#c_uD)"><path d="M46.3,113.8 46.7,117.6 47.7,121.3 48,125.1 48.2,128.4 48.8,131.7 49.1,135.4 47.2,137.8 45.1,140.1 41.9,145.5 44.9,148.6 46.8,152.3 48.8,157.6"/><path d="M42.6,141.3 45.8,140.1 49.4,141.2 52.5,140.6 55.9,141.1 59.3,140.3 62.6,141.2 65.8,142.9 69.2,143.9 72.6,145.5 76,145 79.2,146.6 82.6,146.5 85.7,147.7 88.9,148.8"/><path d="M88.9,148.8 91.3,146.7 93.3,144.2 95.1,141.5 97.5,139.4 100.2,137.6 100.3,134.1 102,131 102.2,127.8 101.8,124.3 100.2,121.3"/><path d="M88.9,148.8 89.7,153.2 90,157.8 92.4,159.8 94.6,162.5 94.3,166.4 95.2,170.1"/><path d="M110.2,197.7 110.9,201.6 112.5,204.7 116.1,203.2 120,202.7"/></g>
<g fill="none" stroke="#aba397" stroke-width="0.95" stroke-linejoin="round" clip-path="url(#c_uD2)"><path d="M46.8,113.4 46.9,117.7 47.9,121.7 47.9,125.6 47.9,129.5 48.5,133.4 46.8,136.6 46.6,139.6 43,141.7 41.9,145.5 44.7,150.7 50,153.4 49.2,158.2 50.1,163.5"/><path d="M46.8,140.1 50.9,141.1 55.1,141.8 59.2,140.5 63.6,140.6 66.6,142.7 70,143.6 73.2,145.4 76.6,146.3 80,147.6"/></g>
<g fill="none" stroke="#aba397" stroke-width="0.95" stroke-linejoin="round" clip-path="url(#c_uD3)"><path d="M60,140.9 63.5,141.2 66.6,143 70.3,143.1 73.3,145.8 78.2,145.6 83.1,144.2 88.8,144.4 91.3,146.6 90.7,151.4 92.9,157.3 96.2,159.9 95.1,165.1 96.7,168.5"/><path d="M91.7,146.7 95.2,143.5 97.2,140.5 99.9,138.4 100.3,134.1 101.6,130 100.3,126.9 100.1,123.4"/><path d="M123.5,165.1 124.4,168 125.7,170.7 127,173.4 128.7,176.7 129.4,179.7 127.7,183.1 126.2,186.2 123.5,190"/><path d="M123.5,165.1 126.9,165.1 130.2,164.9 133.6,165.3 136.7,167 140,166.8"/><path d="M130.1,110 132,112.3 133.7,114.4 136.5,116.6 140,116.7"/></g>
<g fill="none" stroke="#aba397" stroke-width="0.95" stroke-linejoin="round" clip-path="url(#c_uE)"><path d="M123.8,165 127.7,165.3 131.3,166.8 135.1,167.3 138.3,167.2 141.4,167.9 144.4,169 147.6,168.9 150.5,170.3 154.1,169.8 157.2,170.9 160.1,172.4 163.2,173.4 166.4,173.6 169.6,174.1 172.6,175.1"/><path d="M125.1,166.3 126.3,169.5 127.9,172.5 129.8,175.1 131.4,178.7 131.1,182.2 128.3,184.1 125.2,185.6 122.1,187.8 124.1,190.2 126.1,192.5 127.2,194.7 124.5,197.1 122.2,199.3 118.9,201.7 115.1,203.1 109.9,204.4 106.7,202.8 103.5,201.4 100,201.4"/><path d="M152.6,150 153.7,153.7 154,157.5 153.2,161.2 152.7,165 153.9,168.8"/><path d="M160.1,198.8 160.7,203.2 161.6,207.6 161,210.6 160,213.5 160.1,216.6 159.5,219.5 160.2,222.6 162,225.7 163.1,229.1 164.4,232.5 164.7,236.2 166.8,239.2 167.5,242.7 168.1,246.7 170.1,250.2"/><path d="M137.6,236.4 140.2,239.2 143,242 144.7,245.8 147.1,247.6 150.5,247.9 152.4,250.8 156.1,252.3 160.1,252.7"/><path d="M170.1,250.2 175.1,248.5 178.9,248 182.7,247.7"/><path d="M187.7,170 193.1,172.2 195,174.7 196.1,177.8 198.4,180 200.5,182.5 201.3,185.9 201.2,189.4 202,193.1 204.6,194.9 206.4,197.4 208,200.3 205.6,202.3 203.8,204.7 203.2,207.9 201.6,210.5 199.6,212.8 197.7,215.1"/><path d="M207.7,200.1 210.5,198.9 213,197.3 215.2,195.1"/><path d="M200.2,150 203.2,152.4 206.9,153.2 210.4,154.2 213.7,155 216.6,157.2 220,157.5"/></g>
<g fill="none" stroke="#aba397" stroke-width="0.95" stroke-linejoin="round" clip-path="url(#c_uE2)"><path d="M95.1,201.7 98,203.2 100.9,204.5 103.5,206.3 106.9,206.9 110.8,208.7 111.6,205 113.4,201.7 118.2,201.2 123.4,200 127,201.3 129.8,204.1 133.5,205.1"/><path d="M123.4,200 122.4,195.2 123.7,189.8 120.1,185.1 125.2,183.7 128.3,181.8 131.6,181.5 133.5,180"/><path d="M136.8,236.8 138.8,240.6 141.5,243.9 144.7,245.4 147.4,247.7 150,250.1"/></g>
<g fill="none" stroke="#aba397" stroke-width="0.95" stroke-linejoin="round" clip-path="url(#c_uF)"><path d="M282.7,127.6 285.7,126.3 288.8,125.5 292.2,126.5 295.1,124.6 298.7,124.8 301.7,122.8 305.2,122.4 307.7,124.3 310.5,125.4 312.8,127.2 316.6,128.2 320,130.1"/><path d="M200,152.6 203.7,153.5 206.8,155.7 210.3,158.1 213.5,155.3 217.4,153.8 221.2,151.8 225.1,150.1 226.3,147.3 227.8,144.6 230.1,142.6"/><path d="M217.5,157.6 218.6,160.9 218.3,164.5 219.9,167.7 222.6,169.4 225.3,171.1 227.3,173.6 230.1,174.6 233.8,175.4 237.6,175.2 240.9,175.1 243.8,176.5 247,176.8 250.3,176.8 253.5,178.4 256.9,178.8 260.1,180.2"/><path d="M237.6,175.2 239.1,178.4 238.9,181.9 240,185.2 238.6,188.6 236.4,191.7 235.1,194.5 231.8,195.4 228.4,195.2 225,194.5 221.8,196 218.4,196.1 215,196.4 212.7,199.7 210,202.6 206.8,201.4 203.5,200.4 200,200.2"/><path d="M262.6,177.7 265.8,178.2 269,178.6 272,180 275.1,180.6 278.6,180.6 281.9,181.8 285.3,182.3 288.5,183.6 292,183.9 295.4,184.5 299.1,186 302.7,187.7"/><path d="M305.2,158.9 306.8,162.5 307.2,166.3 308,170.2 307.2,173.5 305.3,176.6 304.7,180 304.4,184.1 302,187.9 304,191.4 305.2,195.2"/><path d="M302.7,187.7 302.9,191 301.5,194 301.6,197.2 300.6,200.1 300.2,203.7 301.8,206.9 301.9,210 302,213.5 301.3,216.8 300.2,220"/><path d="M200,175.2 201.3,178.4 202.1,181.8 202,185.1 201.8,188.2 200.9,191.1 201,194.2 199.8,197.1 200,200.2"/><path d="M302.7,200.2 306.2,202.1 310.5,202 313.3,204.6 317.1,205.4 320,207.7"/></g>
<g fill="none" stroke="#aba397" stroke-width="0.95" stroke-linejoin="round" clip-path="url(#c_uG)"><path d="M302.5,197.6 305.1,199 307.9,200.4 309.9,202.8 313.6,203.7 317,205.3 320.1,208 323.4,207.5 326.8,207.4 330,207.1 333.2,207.1 336.3,207.6 339.5,206.9 342.6,207.6"/><path d="M307.5,157.5 306.3,161.3 304.9,165 304.9,168 304.6,171 304.3,174.1 304,177.1 304.6,180.2 303.8,184 302,187.5 301.2,190.6 301.8,194 301.3,197.1 300,200.1"/><path d="M350.1,190.1 353.3,188.8 356.9,189.1 360.1,187.5 363.5,187.2 366.3,185.1 369.2,183.2 372.8,183 375.7,180.3 379.5,179.6 383.2,178.3 385.4,176.3 388,174.7 390.2,172.4 393.3,172.6 396.1,173.8 398.9,175.1"/><path d="M357.6,192.6 358.2,196.6 359.7,200.5 362.5,202.7 365.5,204.7 367.6,207.6 368.8,210.4 371.5,212.2 371.9,215.3 374.6,218.6 375.2,222.6"/><path d="M390.2,160 390.2,163.4 391.9,166.6 391,170.5 394.1,171.4 396.3,173.5 398.9,175.1"/><path d="M310,245.2 311.6,248.3 311.4,251.9 311.6,255.1 312.6,258.9 311.3,262.6 312.2,266.4 311.3,270"/><path d="M327.6,245.2 328.4,248.3 327.3,251.4 328,254.6 327.4,258 330.6,258.9 333,260.9 335.3,263.1 337.6,265.2 341,265.6 344.4,266.2 347.6,267.7"/><path d="M370.1,242.7 369,245.6 367,247.8 365.9,250.4 364.2,253.5 364.3,257.1 362.6,260.2 364.6,263.3 366.7,266.4 367.6,270"/></g>
<g fill="none" stroke="#aba397" stroke-width="0.95" stroke-linejoin="round" clip-path="url(#c_uH)"><path d="M146.3,260 148.9,262 150,265 148.5,268.6 148.1,272.2 149.2,275.1 151.6,277.1 152.7,280 152,283.8 152.9,287.2 155.8,290.1 158.9,292.6"/><path d="M160.1,298.8 160.7,302.2 163,305.2 161.5,308.8 161.7,311.9 164.7,313.5 167.2,315.5 169.6,318.1 172.6,320.1"/><path d="M167.6,315.1 166.3,318.6 164.4,321.8 162.9,325.2 161.9,328.7 160.4,331.9 158.3,335 157.5,338.9 155.8,342.8 157.6,347.7"/><path d="M115,327.6 118.4,328.2 121.7,328.8 125.1,329 128.5,328.8 131.8,329.7 135.2,329.9 138.7,331.4 141.9,333.2 144.6,335.7 147,338.3 149.5,340.8 152.6,342.8 156.4,342.9 160.1,343.9"/><path d="M172.6,320.1 176,319.9 179.3,319.7 182.5,320.9 185.7,321.4 188.8,321.9 192.1,322 195.2,322.6 199.1,321.8 202.7,320.1"/><path d="M195.2,337.7 198.2,340 201.7,341.4 205.4,343.5 208.6,342 212,341.6 215.3,340.4 220,337.7"/><path d="M187.7,348.9 190.1,352.1 192.1,355.1 192,358.6 190.4,361.7 190.4,364.8 192.2,367.6 195,368.9 197.9,369.7 201.3,371.8 205.2,372.7"/><path d="M210.2,355.2 213.4,354 216.6,352.8 220,352.7"/><path d="M107.5,375.2 111,374.3 114.5,374.6 118.1,375.3 121.5,373.8 125.1,374.1 128.2,373.9 131.3,373.4 134.5,374.4 137.6,373.6 140.7,373.2 143.8,374.6 147,374.5 150.1,374"/></g>
<g fill="none" stroke="#aba397" stroke-width="0.95" stroke-linejoin="round" clip-path="url(#c_uH2)"><path d="M158.5,255 158.4,258.6 156.8,261.8 152.8,263.7 148.2,264.9 148,268.4 146.5,271.8 148.7,274.2 148.3,277.6 149.8,280.2 151.1,283.4 151.4,287.1 154,289.5 157,291.4 159.7,292.8 161.8,295.1"/><path d="M161.8,295.1 160.7,298.4 160.2,301.8 160.3,305.3 162.3,308.1 163,311.3 165.4,314.1 170,311.8"/><path d="M115.1,328.5 118.2,326.8 121.9,325.6 125,327.4 128.5,328.1 131.2,329.6 134,330.8 136.9,331.7 140.1,335"/><path d="M160.1,335 160,331.6 160.9,328.3 162.2,325.4 164.7,322.1 166.8,318.5"/></g>
<g fill="none" stroke="#aba397" stroke-width="0.95" stroke-linejoin="round" clip-path="url(#c_uI1)"><path d="M210.1,200 207.7,202.3 204.3,203 201.1,204.6 198.2,210 196.7,213.1 196.6,216.6 195,220"/><path d="M226.8,200 230.1,201.6 233.6,203.3 234.1,206.7 234.8,209.9 232.6,215.4 235.7,218.1 237.1,221.6 236.7,225.2 237.6,228.4 238.7,231.9 236.8,233.4"/><path d="M213.4,235.1 212,239.2 211.6,243.1 212.7,246.5 213.4,250.1"/><path d="M210.1,270.1 213.8,271.1 217,274.1 219.8,271.2 223.3,269.9 226.7,269 230.1,268.5"/></g>
<g fill="none" stroke="#aba397" stroke-width="0.95" stroke-linejoin="round" clip-path="url(#c_uI2)"><path d="M300.1,200 300.3,203.4 302,206.5 302.7,210.2 301.5,213.5 300,216.6 296.9,218.6 293.5,220.8 290.1,220.8 286.7,220.9"/><path d="M310.1,200 313.1,201.3 315.5,203.7 318.3,205.3 321.5,206 323.6,209 327.5,206.9 331.8,206.5 335.9,205.7 340,205"/><path d="M260,243.4 263.1,245.3 265.2,247.7 269.9,250.5 273.3,251.3 276.4,252.2 281.4,255.9 284.8,257 288.4,257.6"/><path d="M310.1,246.8 311.3,250.9 311.5,255.1 312,258.5 313.4,261.7 313,265.4 315.4,268.9 318.4,271.9 321.5,274.7 325,276.4 328.1,276.3 330.6,274.3 333.3,273.2 336.8,271.9 340,270.1"/><path d="M326.8,245.1 326.6,248.4 326.9,251.8 326.3,255.5 328.9,258.7 331.8,261.8 335.6,264.1 340,265.1"/></g>
<g fill="none" stroke="#aba397" stroke-width="0.95" stroke-linejoin="round" clip-path="url(#c_uJ)"><path d="M180,318.8 183.8,319.3 187.6,319.9 190.9,322.8 195,323.9"/><path d="M200,323.9 201.2,327.6 202.3,331.2 202.2,335.7 205.7,337.1 209.4,338.1 212.3,340.6 214.9,342.1 217.6,343.4 220.1,345.2 225.1,347.7"/><path d="M225.1,330.1 226,333.8 228.4,336.8 230.6,339.6 232.7,342.6 235.4,344.9 237.3,348.5 241.4,348.8 245.3,350.1 246.3,353.7 248,357.1 250.8,359.9 252.6,365.2"/><path d="M215.1,352.7 217.4,355.4 219.5,358.3 222.5,360.3 224.6,362.5 225.3,365.6 228.3,367.5 228.9,371.4 230.1,375.2"/><path d="M187.5,352.7 189.8,354.9 191.2,357.8 193.3,360.1 194.7,363.3 199.9,364.4 203.1,364.8 206.3,364.2 209.4,363.5 212.6,363.9"/><path d="M195,275 198.4,276.1 202,276.3 205.6,276.2 209.1,277.1 212.6,277.4 215.9,277.3 218.9,278.4 222.1,278.6 225.1,279.3 228.4,280.6 231.8,280.5 235.1,280"/><path d="M290.2,302.6 286.8,302.1 283.3,301.8 279.6,299.7 279.2,303 277.3,305.4 275.2,307.6"/><path d="M267.7,317.6 270.7,318.8 273.9,319 277.1,319.4 280,320.6 283.7,322.1 287.7,322.6"/></g>
<g fill="none" stroke="#aba397" stroke-width="0.95" stroke-linejoin="round" clip-path="url(#c_uK)"><path d="M310,250 310.6,253 310.8,256.2 313,258.8 313,262 313.5,265.2 315.1,269 317.6,272.5 320,274.4 322.8,275.6 324.8,277.9 327.6,280.1"/><path d="M327.6,250 327.5,253.8 327.2,258.3 330.9,259.2 334.5,260.3 337.1,262.7 340.1,267.6 338,269.7 334.6,270.1 332.6,272.5 331.4,275.4 329.7,277.9 327.6,280.1"/><path d="M337.6,262.5 340.6,261.4 344,262 347.1,261.2 350.6,259.3 352.4,262.2 355.3,263.5 357.7,265.5 359.7,267.6 361.7,271.2 362.6,275.1"/><path d="M362.6,250 363.8,253.2 363.6,256.9 364.8,260.4 367.3,262.9 369.9,265.3 373.2,268.2 375.5,266.2 377.9,264.5 380.1,262.1 384.1,261.6 387.5,260.7 391.4,261.4 395.2,262.5"/><path d="M372.7,267.5 370.7,269.8 369.9,272.9 367.8,275.1 368.9,278.9 370,283 373.5,284.3 377.1,285.5 380,288.4 383.5,288.4 387,288.6 389.7,290.5 392.9,293 395.2,296.3"/><path d="M327.6,280.1 328.1,284.1 330.9,287.6 329.6,290.7 329.8,293.9 329.7,297 330.9,300.2 329.8,303.2 329.4,306.3 329.5,309.5 329.5,312.5 329,316 329.9,319.2 329.3,322.4 329.7,326.1 328.6,329.4 327.6,332.7"/><path d="M330.1,287.6 333.3,289.1 337,289.4 340.6,291 342.6,294.1 343.7,298.2 346.7,298.9 349.9,298.6 353,300 353,303.9 354.4,307 357.3,309.5 360.1,312.2 362.6,315.1"/><path d="M365.2,325.2 368.7,324.8 371.8,323 375.1,323 379.1,323.3 382.8,325.4 385.4,323.8 387.8,322 389.7,319.7 392,317.6 393.6,314.8 395.6,312.4 397.4,310 399.2,306.9 398.8,303.3 400.2,300.1"/><path d="M397.7,322.6 398.7,325.9 398.9,329.5 400.9,332.5 401,336.6 402.7,340.2"/><path d="M360.1,345.2 363.1,343.9 365.3,341.6 368.1,340.2 370.1,337.7 372.7,332.7"/><path d="M290,285.1 293.2,286.4 296.5,287.6 300,287.6"/><path d="M355.1,347.7 358.5,349.4 361.9,351 365.2,353.5 368.3,353.1 371.4,352.7 374.6,352.5 377.8,353.1 381,352.9 384,351.5 387.1,350.8 390.2,350.2 393.2,347.8 397.1,347.4 400.4,345.5 402.8,343.7 405.4,342.2 407.7,340.2"/><path d="M357.6,350.2 357.9,353.7 359.4,356.8 360,360.3 362.2,363.3 363.4,366.8 365.2,370"/><path d="M397.7,345.2 398.1,348.4 398.8,351.5 400.1,354.5 400.6,357.5 402.2,360.5 402.8,363.8 403.8,367 405.2,370"/></g>
<g fill="none" stroke="#aba397" stroke-width="0.95" stroke-linejoin="round" clip-path="url(#c_uL)"><path d="M120,376.3 123.3,375.6 126.7,375.8 130,374.9 133.3,374.9 136.6,374.2 140,374.7 143.4,374.3 146.8,374.4 150.1,375.1"/><path d="M187.6,350 188.6,353.3 189,356.8 190.1,360.1 193.6,360.9 196.8,362.7 200.2,364.2 203.4,363.6 206.5,363.8 209.5,365.4 212.4,365 215.2,360.2 220.2,357.6"/><path d="M195.2,365.1 197.1,367.6 198.9,370.1 201.1,372.4 203.2,375.5 199.9,377.8 197.5,380.8 194.5,383.6 193.9,387 192.6,390.1"/><path d="M192.6,342.5 196.2,341.4 199.3,339.2 203.4,338 203.9,334.7 205.7,332.3 207.7,330"/><path d="M202.7,337.5 204.9,339.8 207.8,341.1 210.1,343.2 212.3,345.6 215.5,346.2 218.1,347.7 220,349.1 223.4,349.6 226.6,349.5 229.5,347.7 232.7,347.5 236.3,346.1 240,345"/><path d="M220.2,357.6 223.5,359.3 226.6,361.5 229.9,363.2 233.4,364.4 236.8,365.9 240,367.6"/><path d="M215.2,360.1 216.2,363.8 218.6,366.7 220.5,369.9 222.1,372.6 223.7,375.3 226.2,377.3 227.5,380.5 230.2,381.4"/><path d="M152.6,357.6 155.6,357.9 158.7,357.8 161.5,359.5 164.5,360.3 167.3,360.8 170.2,362 173.6,361.5 175.9,364.1 178.8,365.1 181.6,366.1 185.1,365.7 187.6,367.6"/><path d="M182.6,412.7 177.9,410.3 177.9,406.7 180,403.6 180.1,400.1"/></g>
<g fill="none" stroke="#aba397" stroke-width="0.95" stroke-linejoin="round" clip-path="url(#c_uL2)"><path d="M105.1,375.1 108.4,374.3 112,373.5 115.9,375.3 120.1,376.2 123.5,375.6 126.8,374.9 130.1,373.9 133.5,374.7 136.8,373.4 140.1,374.4 144.2,372.7 148.5,372.5 150,372.6"/><path d="M123.4,330 127.6,331 132,331.3 135.8,333.8 140.4,334.7 142.2,338 145.3,339.8 150,343.4"/></g>
<g fill="none" stroke="#aba397" stroke-width="0.95" stroke-linejoin="round" clip-path="url(#c_uM)"><path d="M227.5,325 228.4,328.1 230.1,330.8 231.5,333.7 233.2,336.4 233.6,339.7 235.7,342.2 236.6,345.6 238.2,348.5 239.8,351.4 241.4,354.4 242.5,357.6 245.1,362.6"/><path d="M220,347.6 223.8,348.3 227.7,348.1 231.1,346 235,345.3 238.3,346.2 241.6,347.2 245,347.8 248,348.6 250.5,350.4 252.1,352.8 254.2,355.6 255,358.9 257.1,361.7 257.5,365.2 262.6,367.6"/><path d="M280.1,345.1 284,346 287.9,346.8 291.7,348 295,349.7 300.2,347.6"/><path d="M285.1,357.6 288.9,356.4 292.3,355.4 295.7,357 297.7,360.1"/><path d="M227.5,410.2 230.6,410.5 233.8,410.6 236.9,411.4 240,411.9 243.5,411.2 246.8,411.8 250.2,413.4 253.1,412.5 256,411.1 259.1,411.3 262.1,410.5 265.1,410.2"/><path d="M327.7,310 328.3,313 327.9,316 327.6,319 327.4,322 327,325.1 328.7,328.1 328.1,331.5 329.8,334.4 330.2,337.6"/></g>
<g fill="none" stroke="#aba397" stroke-width="0.95" stroke-linejoin="round" clip-path="url(#c_uN)"><path d="M320,352.6 322.9,353.9 326.1,354.4 329,355.5 331.9,356.9 334.8,358 338.4,358.1 341.6,359.3 344.6,361.1 347.7,362.3 350.7,363.2 353.7,364.7 357,364.2 359.9,364.7 363.8,363.8 367.6,362.6"/><path d="M365.1,362.6 364.1,366.5 362.8,370.1 363.8,374 365.8,377.6 365.1,381.3 365.9,384.7 366.1,388.3 367.2,391.7 367.6,395.2"/><path d="M357.6,345.1 359.4,348.7 359.7,352.5 358.2,356.1 357.2,360.7 359.9,362.1 363,362.9 365.1,365.2"/><path d="M365.1,365.2 368.1,364.2 371.4,364.2 374.3,362.4 377.5,362.2 380.7,361.8 384,361.9 386.8,359.9 390,359.7 393.5,359.5 396.6,357.6 400,357.3 402.9,356.3 405.2,354.2 407.7,352.6"/><path d="M402.7,335.1 399.9,337.3 398.1,340 398.2,343.5 400,346.6 400.1,350.3 402.4,352.2 405.6,352.8 408.1,355.2 406.7,358.9 404.5,362.8 406.8,365.8 407,369.3 407.7,372.7"/><path d="M370.1,330.1 373.6,330.1 376.6,327.7 380.3,328.4 383.2,326 386.8,326 390.1,325 393.6,323.7 396.7,321.4 400.2,320.1 403.2,318.1 405.2,315.1"/><path d="M345.1,290 344.4,293.9 342.2,298.1 346.2,298.5 349.5,300.3 352.7,302 355.9,303.4 359.3,303.8 362.6,305 365.7,306.9 367.9,309.7 370.1,312.5"/><path d="M330,290 330.9,293 330.7,296 329.7,299 329.9,302 330.1,305 330.3,308.2 328.5,311 329.2,314.2 327.6,317 327.7,320.1 327.3,323.7 329.2,327 329.3,330.6 330.3,334 330,337.6"/></g>
<g fill="none" stroke="#aba397" stroke-width="0.95" stroke-linejoin="round" clip-path="url(#c_uO)"><path d="M422.6,423.3 425.3,425.8 428.7,427.2 432,428.7 435.3,430.2 437.8,433.2 441.5,434.4 443.7,437.3 445.1,440.7 447,443.7 452.5,445.7"/></g>
<g fill="none" stroke="#aba397" stroke-width="0.95" stroke-linejoin="round" clip-path="url(#c_uP1)"><path d="M116.7,328.4 120.2,328.1 124,326.1 126.8,330.6 131,330.3 135.5,328.5 139.9,332 143.1,335.3 146.7,340.6 151.3,340.5 154.3,343.4 156.1,346.1 158.3,348.6 163.5,351.8 165.1,355.1"/><path d="M153.4,340.1 155.4,337.1 158.5,335.1 160.1,330.1 161.5,326.6 163.8,323.5 165.5,319 170.1,315.1 168.4,311.9 163.4,310 162.1,306.5 159.8,303.3 161.8,298.4"/><path d="M170.1,315.1 171.3,317.9 173.5,320.4 176.8,320.9 180.1,321.1 183.4,319.7 186.9,320.4 190,319.2"/></g>
<g fill="none" stroke="#aba397" stroke-width="0.95" stroke-linejoin="round" clip-path="url(#c_uP2)"><path d="M180,319.2 184.8,320.7 189.9,322 195.1,324.8 198.4,323.4"/><path d="M196.7,333.4 200.2,337.8 203.4,339.2 206.6,340.5 209.9,341.7 213.2,341.1 216.6,340.4 219.9,339.7 225.5,338.2 228.2,343.5 230.1,346.8"/><path d="M225.1,338.4 226.7,333.3 230.4,329.1 233.6,327 237.1,325.3 238.5,322.6"/><path d="M230.1,346.8 233.5,347.1 236.6,346.5 240.5,346.4 243.6,348.4 245.8,351.2 248.1,353.7 249.5,357.1 252.3,359.9 253.5,365.2 256.8,370"/><path d="M186.7,350.1 186.2,355.6 190.5,358.2 192.4,360.5 193.4,363.4 197.4,362.1 201.5,361 205.9,360.8 210.2,360.3 215.2,357 220.5,354 222.6,351 225.4,348.7 228.4,346.8"/><path d="M215.1,356.8 216.1,360.5 219.1,363.1 219.9,366.8 221.8,370"/></g>
<g fill="none" stroke="#aba397" stroke-width="0.95" stroke-linejoin="round" clip-path="url(#c_uP3)"><path d="M188.4,350 188.2,353.5 186.3,357 189.8,359.6 191.4,363.9 195.3,365.6 197.7,368.8 199.9,371.9 201.5,374.8 199.7,378 196.6,379.8 191.7,383.2 189.1,385.2 186.1,386.6 183.4,388.4"/><path d="M191.8,363.4 196,362.6 200.2,362.3 203.6,362 206.9,361.1 210.1,360 213.1,357.7 217,356.8 218.5,353.6 218.5,350"/><path d="M216.8,356.7 218.9,359.8 220.7,363.1 222.3,366.5 223.7,369.3 224.3,372.6 226,375.3 226.3,378.9 230,381.7"/><path d="M175.1,406.8 175.2,410.3 176.1,413.2 175.1,416.8"/></g>
<g fill="none" stroke="#aba397" stroke-width="0.95" stroke-linejoin="round" clip-path="url(#c_uP4)"><path d="M225,348.4 229.2,347.2 233.4,345.8 236.7,346.6 240.1,346.6 242.4,348.5 245.5,349.5 249.1,353.4 249.5,357.6 250.6,361.7 251.5,365 251.7,368.4"/><path d="M226.7,330 229.9,328.3 232.9,327.3 235.8,325.3 236.7,320"/><path d="M280.1,346.7 284.4,346.3 288.6,344.8 291.9,345.6 295.5,347.3 297.4,344.7 300.3,343.6 305,341.7"/><path d="M281.8,355.1 285.1,356.3 288.4,356.3 293.5,355.9 296.9,354.7 300.2,355.1"/><path d="M263.4,386.8 265.2,390.7 268,393.6 269.2,396.8 270.1,400"/></g>
<g fill="none" stroke="#aba397" stroke-width="0.95" stroke-linejoin="round" clip-path="url(#c_uQ1)"><path d="M290,286.7 295,286 298.4,286.7"/><path d="M313.4,270 315.4,273 318.1,275.6 322.1,276 325,278.1 328,275.9 331.7,274.9 335.3,273.6 340.1,270"/><path d="M325.1,278.4 326.9,283.4 326.6,286.6 323.7,288.9 320.3,290.5 316.7,291.7"/><path d="M326.7,286.7 330.4,290 330.5,293.4 329.7,296.7 329.6,300.2 331.3,304.2 331.2,308.3 331.2,311.8 329.5,315 328.9,319.2 328.4,323.4 327.9,326.8 327.9,330.2 329.7,334.2 330.1,338.5"/><path d="M330.1,288.4 333.6,288.2 337,286.5 339.6,288.4 340.6,291.8 342.6,293.7 345,298.7 349.5,298.4 354.4,300.1 353,303.4 353.2,306.8 353.7,310.2 354.7,314.1 358.3,315.3 362,317.3 366.8,315.1"/><path d="M356.8,270 358.7,272.7 360.3,275.5 361.7,278.6 364.7,279.8 367.1,282 370,283.4"/><path d="M298.4,333.5 298.5,337 300.1,340.1 299.9,343.5 300.7,346.8 301.7,350"/><path d="M360.1,343.5 363.3,341.4 366.5,339.4 370,338.5"/></g>
<g fill="none" stroke="#aba397" stroke-width="0.95" stroke-linejoin="round" clip-path="url(#c_uQ2)"><path d="M360,278.4 363.4,278.9 366.8,280.2 369.9,278.5 375.6,281.6 375.5,285.1 377,288.3 378.5,293.2 381.7,295.1"/><path d="M365,260 368.2,261.1 370.4,263.7 373.3,264.6 376.6,263.6 380.5,263.8 383.4,260"/><path d="M390.1,260 393.4,263 398.4,262.5"/><path d="M405.1,318.5 402.2,320.6 400.5,324.2 396.7,325.1 393.4,326.5 390,327 386.7,328 383.3,329.1 380.1,327.6 376.2,326.3 374.5,329.6 371.8,331.9 368.1,336.7 366.7,340"/><path d="M396.7,333.5 397.8,336.7 398.4,340"/></g>
<g fill="none" stroke="#aba397" stroke-width="0.95" stroke-linejoin="round" clip-path="url(#c_uQ3)"><path d="M308.4,200 311.5,202.7 315.1,204.9 318.6,206.2 321.7,208.4 325.8,207.2 330,206.8 333.4,206.8 336.7,206.1 340.2,206.3 343.4,205"/><path d="M360.1,200 363.9,201.9 367,204.8 369.9,210.1 371.7,213.4 373.3,216.6 371.8,221.7"/><path d="M311.7,245.1 310.7,249.2 309.2,253.7 311.6,256.6 312.3,260.1 314,263 315.5,267.1 318.4,270.2 320.4,272.5 324,273.2 325,276.8 326.7,280"/><path d="M326.7,245.1 327.1,249.2 326.8,253.3 328.6,257.2 331.9,259.7 335.3,261.2 338.6,263.4 340.4,267 338,269 336.5,271.5 333.6,273.9 330.1,275.2"/><path d="M338.4,263.5 341.9,263.2 344.9,261.3 350.7,259.5 353,262.2 355,265.2 356.4,267.9 358.1,270.2 360.2,273.2 360.9,276.6 361.8,280"/><path d="M363.5,240.1 362.9,243.4 363.3,246.8 363,250.2 364.9,254.2 364.7,258.9 368,260.6 370.5,262.7 373.5,265.1 376.7,267.1 380,267.6"/></g>
<g fill="none" stroke="#aba397" stroke-width="0.95" stroke-linejoin="round" clip-path="url(#c_uQ4)"><path d="M266.7,250 269.9,251.9 273.4,253.3 276.8,253.3 280,254.6 283.4,255 287,255 290.1,256.7"/><path d="M281.8,285.1 285.2,285.1 288.5,285.7 292.7,285.9 296.8,285.1"/><path d="M278.4,303.4 278.4,307.8 280.1,311.8"/></g>
<g fill="none" stroke="#aba397" stroke-width="0.95" stroke-linejoin="round" clip-path="url(#c_uR)"><path d="M216.6,103.4 220.7,104.7 225,104.3 229.3,104.7 231.9,106.5 234.7,107.1 237.6,109.1 237.9,114.1 238.3,117.6 235.8,120 233.2,123.3 231.1,128.7 227.1,131.1 225,133.4"/><path d="M250.9,103.4 250.7,107.4 250.6,111.8 251,116.4 249.6,120.8 249.7,125.1 248.7,130 248.6,135 248.2,138.3 248.4,141.7 248.8,145.1"/></g>
<g fill="none" stroke="#6a6560" stroke-width="1.15" stroke-linejoin="round" clip-path="url(#c_uA)"><path d="M115,122.6 117.2,127.2 120.8,127.2 123.8,128.4 126.9,128.4 130.1,128.9 135.2,129.6 138.1,131.5 141.4,132 145.7,130.5 150,129.8 153.7,128.9 158,128.5 160.4,131.1 162.7,133.6 167.7,135.5 171.2,133.2 175.1,132.8 177.3,135.6 180.5,137.4 182.6,140.4 185.4,141.5 187.3,144.1 190.2,145.2 192.8,146.9 194.5,148.6 193.9,152 192.9,155.2 193.9,158.9 194.5,163 192.4,166.5 190.2,170"/><path d="M130.1,128.9 131.5,133.2 130.6,137.6 130.3,140.8 130.1,143.9 130.4,147.1 130.4,150.3 129.6,153.6 129.1,157 127.7,160.6 123.9,161.8 120,162.7 116.9,164.9 113.3,166 110,167.7 106.8,169.1 103.3,169.1 100,170"/><path d="M176.4,85.1 176.3,89 177.3,92.7 178.5,96 179.8,99.2 179.8,102.6 180.7,106.3 179.7,110.4 182.2,112.4 184,114.8 185,118 189.2,119 193.1,121.3 193.2,124.4 194.6,127.2 195.4,130.2 194.5,133.5 194.5,136.9 194.6,139.6 192.6,142.6 190.2,145.2"/><path d="M192.7,121.4 196,120.4 199.4,119.9 202.6,118.8 206.8,117.7 209.9,114.8 213.1,113 215.7,110.2 216.3,104.8 220,102.6"/></g>
<g fill="none" stroke="#6a6560" stroke-width="1.15" stroke-linejoin="round" clip-path="url(#c_uA2)"><path d="M115,123.5 116.3,126.3 118.4,128.8 121.8,128.6 125.1,127.7 128.6,128.3 131.7,130.2 135.2,130.6 138.2,130 142.7,130.2 146.9,132 150.6,129.4 155,128.9 160,130.3 165,133.3 170.2,131.4 173.6,131.9 176.9,133 180,134.3"/></g>
<g fill="none" stroke="#6a6560" stroke-width="1.15" stroke-linejoin="round" clip-path="url(#c_uB)"><path d="M218.8,40.1 222,40.6 225.2,41.2 229.1,42.6 232.5,45.4 236.5,44.8 240.4,45.8 243.4,47.9 246.4,49.5 249.3,51.3 252.3,52.2 256.4,52.6 260.2,53.6 263.3,55.3 266.7,56 270.1,56.7 273.3,56.8 276.3,55 279.6,55.6 282.7,54.7 285.7,56.3 289,55 292,56.8 295.2,57.1 298.9,55.6 302.7,56.4"/><path d="M302.7,56.4 302.7,60.9 304,65.1 302.1,68.2 301.5,71.9 299.3,75.1 299.9,79 299.3,83.1 295.6,85.6 292.5,88.1 289.6,90 286.1,90.2 286.4,93.6 285.8,96.9 285,100.1 282.2,105 281.5,109 279.5,112.4 278.7,116.3 277.7,120"/><path d="M213.8,53.9 216.6,55.5 218,58.4 220.9,59.8 222.9,62.4 223.7,66.4 225.3,70.1 224.4,73.2 224.6,76.4 223.6,79.5 223.7,82.7 224.3,86.5 224.9,90.1 223.8,93.3 222.5,96.4 220.6,99.2 217.9,101.1 215.3,102.7 215.5,106 215.6,109.4 214.7,112.8 216.3,116.3 217.5,120"/><path d="M222.5,96.4 225.7,96.1 228.8,97.3 232,96.8 235.2,97.3 238.2,97.7 241,99 244.1,99.2 247.2,98.8 250,100.6 253.2,100.1 256.2,100.8 259.2,101 262.1,102.4 265,102.8 267.8,104 269.6,106.8 272.8,107.6 274.5,110.5 274.6,114.1 276.4,116.9 277.7,120"/></g>
<g fill="none" stroke="#6a6560" stroke-width="1.15" stroke-linejoin="round" clip-path="url(#c_uB2)"><path d="M250,51.8 253.4,52.5 256.6,53.6 261.7,55.1 265.9,55.4 269.9,55.1 274.3,56 278.4,55.2 282.5,55.5 286.8,54.3 290.1,55.5 293.5,55.6 296.7,56.8 300.1,58 303.4,57.6"/><path d="M303.4,57.6 304.7,63.6 303.4,66.7 303.1,69.9 302.4,73.1 299.5,75 298.4,80"/></g>
<g fill="none" stroke="#6a6560" stroke-width="1.15" stroke-linejoin="round" clip-path="url(#c_uC)"><path d="M336.1,72.1 334.2,74.7 333,77.7 331.1,80.8 331.7,84.5 330,87.6 329.2,90.5 329.2,93.6 328.6,96.5 329.1,99.6 328.1,102.5 329.3,105.8 327.6,108.8 328.5,112.1 327.4,115.3 328.5,118.2 330.9,120.2 332.3,123.2 334.9,124.6 337.3,126.6 340.8,127.1 342.2,130.2 344,132.9 346,135.5 349,138.3 353.1,139.9 354.2,142.7 355.8,145.3 357.8,147.6 358.6,150.6 360.9,152.7 363.3,154.8 365.1,160"/><path d="M395.2,100.1 396.2,103.3 397.6,106.8 401.4,107.4 405.2,107.6 402.8,112.6 399.6,117.7 399.8,121 399.8,124.4 399.7,127.9 402.1,131.2 402.4,135.1 401.2,138.4 400.6,141.8 399.4,145 399.5,148.6 398.1,151.8 397.3,155.4 400.2,160"/><path d="M395.2,100.1 400.1,99.3 403.9,99.5 407.7,100.1 412.5,101.9 409.1,104.3 405.2,105.1"/><path d="M360.1,155.2 363.4,154 366.6,153 370,153.3 373.3,154.1 376.9,154.1 380.2,155 383.4,156.5 386.8,157.1 390.2,157.6 394.2,157.2 397.7,155.2"/></g>
<g fill="none" stroke="#6a6560" stroke-width="1.15" stroke-linejoin="round" clip-path="url(#c_uC2)"><path d="M415.1,98.4 414.3,104.1 408,105.7 405.8,103.6 403.3,101.9 398.9,99.6 396.5,101.6 394.1,106.8 397.3,109.3 398.2,112.4 401.4,112.1 404.5,113.2 405.7,115.9 404.8,119.8 402.4,123.2 400.9,125.7 400.4,130.2 402.2,133.3 403.3,137.1 400.6,139.9 400.7,143.7 398.1,146.5 398.1,150.2 397.3,153.6 395.2,156.6 395.1,160"/><path d="M370,154.3 374.1,155.6 378.1,156.8 382,156.5 384.9,158.8 390,160"/></g>
<g fill="none" stroke="#6a6560" stroke-width="1.15" stroke-linejoin="round" clip-path="url(#c_uD)"><path d="M81.4,178.9 84.3,177.6 87.1,176.1 90.1,175.1 95.5,173 97.7,170.7 100.4,169.7 103.7,168.8 106.9,167.4 109.8,165.9 112.3,164 115.2,162.7 120,163.9"/><path d="M115.2,122.5 117.2,127.9 120,131.3"/></g>
<g fill="none" stroke="#6a6560" stroke-width="1.15" stroke-linejoin="round" clip-path="url(#c_uD2)"></g>
<g fill="none" stroke="#6a6560" stroke-width="1.15" stroke-linejoin="round" clip-path="url(#c_uD3)"><path d="M115.1,122.5 116,125.9 118.4,128.8 123.1,129.2 126.5,129.1 130.2,130.1 131.9,127.7 136.6,129.5 140,131.7"/><path d="M130.1,130 129.3,133.4 130.5,136.7 130,140.1 129.5,143.4 129.1,146.7 130.4,150.8 130.9,155 126.1,158.1 125.1,161.7 123.2,165.6 118.5,161.7 113.2,163 111.3,165.7 108.3,166.2 105.1,167.2 101.9,168.1 98.6,168.9 95.8,169.5 93.2,173.7 89.8,175 86.7,176.9 81.7,178.5"/></g>
<g fill="none" stroke="#6a6560" stroke-width="1.15" stroke-linejoin="round" clip-path="url(#c_uE)"><path d="M100,168.8 104,168.8 107.4,166.6 110.7,165.6 114.8,164.3 117.3,161.7 120.9,162.7 123.5,164.9 124.3,161 126.4,157.6 128,155 129.8,152.6 131.3,150"/><path d="M172.6,175.1 175.3,174.4 178.7,173.6 181.8,171.9 185.1,171.2 187.2,168 190.3,165.5 192.5,162.5 193.4,159.4 192.9,156.2 193.3,153.1 193.9,150"/><path d="M172.6,175.1 171.1,178.8 170.7,182.8 169.3,186.5 167.5,190.1 166.1,193.8 165.3,198.3 162.2,198.6 159.3,199.3 156.4,200.3 152.1,201.5 147.5,201.1 143.8,201.6 140.3,203 135,205.1 137,210.3 138.4,214 141,217.5 140.8,220.9 141.4,224.3 140.7,227.9 142.2,230.9 143.6,233.5 141,236 137.5,236 134,237.7 130.2,238.3 127,238.4 123.8,238.9"/><path d="M165.1,197.6 167.5,200.2 170.4,202.3 172.5,205.7 175.9,205.9 179.2,206.8 183.2,206 185.2,209.5 187.9,212.4 189.9,215 192.4,217.1 193.2,220.4 195.8,223 197,225.8 200.2,228.9 202.3,232.3 199.7,234.7 197.9,237.9 195.6,240.6 193.1,242.8 191.6,246.5 190.2,250.2"/><path d="M202.7,232.7 206.4,234.7 210.1,236 213.5,236.4 216.8,236 220,235.2"/></g>
<g fill="none" stroke="#6a6560" stroke-width="1.15" stroke-linejoin="round" clip-path="url(#c_uE2)"><path d="M133.5,205.1 138.7,204.9 143.7,203.3 146.9,202.1 150,200.9"/><path d="M133.5,205.1 134.5,208.8 136.4,212 138.7,215.1 140.1,218.3 140.6,221.6 141,227 142.4,230.2 143.1,233 140.2,237.6 136.7,236.7 133.4,238 128.6,236.3 123.4,237.6"/></g>
<g fill="none" stroke="#6a6560" stroke-width="1.15" stroke-linejoin="round" clip-path="url(#c_uF)"><path d="M213.8,100 214.5,103.7 214.4,107.3 213.4,111.1 212.2,114.2 209,117.1 205,117.6 200,118.8"/><path d="M215,107.5 216.5,110.9 218.4,114.1 220.2,117.4 221.1,121.2 223.4,124.2 225.6,127.3 226.9,130 228.6,132.5 230.5,135 231.4,139.4 234.3,141.3 237.5,141.7 240.5,142.8 243.5,142.8 245.7,145.7 247.5,149.5 251.3,149.7 255.2,150.8 259,150.1 262.6,148.8 265.9,146.2 266.7,143.1 267.8,140.8 271.4,138.7 275.1,137.4 279.7,135.2 280,131.3 278,127.3 280.8,124 280.8,120 280.9,114.8 282.9,111.1 285.1,107.5 285.9,103.8 286.4,100"/><path d="M246.3,100 249.1,101.3 252.2,101.6 255.1,102.8 258.3,102 261.3,103.4 264.5,103.6 267,103.4 270.1,100"/><path d="M270.1,103.8 272,107.4 275.1,110.1 278.3,112.5 281.4,115"/><path d="M262.6,148.8 264.7,151.5 265.9,154.7 267,157.4 266,161.2 265.7,165.5 263.5,167.8 260.6,170 261.7,173.6 260.3,176.8 259.5,180.4 260.6,183.6 261.5,186.9 263.4,190 263.8,193.4 264.7,196.8 265.5,200.1 265.4,203.4 266.7,206.4 267.8,209.4 268.4,212.7 267.8,216.3 267.6,220"/><path d="M280.2,137.6 282.8,140 285.1,142.6 287.9,147.4 289.8,150.5 292.1,153.1 294,155.5 296.3,158.4 300.8,158 305.2,158.8 309.2,158.3 312.5,155.8 316.6,155.8 320,153.9"/></g>
<g fill="none" stroke="#6a6560" stroke-width="1.15" stroke-linejoin="round" clip-path="url(#c_uG)"><path d="M300,158.8 303.5,158.1 306.5,155.9 309.9,154.1 313.1,154.8 316.2,153.9 319.3,153.5 322.7,153.7 325.2,156.6 327.2,159.9 329.8,162.6 330.8,166.4 332.4,170.5 336,171.1 339.4,172.3 342.5,173.6 347.6,172.5 350.1,170.6 352.7,168.8 354.5,165.9 354.9,162.4 356.5,159.4 357.4,155.8 360.6,155.6 363.5,154.8 366.4,154.1 370.8,154.3 375.5,154.4 378.7,156.4 382,158 385.2,159.4 388.9,160.8 392.4,160.2 394.2,163 396.2,165.5 399.3,167.3 401.1,171.1 402.7,175.1 405.2,178.8"/><path d="M397.7,145 397.9,150 397.4,153.4 397.6,156.8 396.1,159.3 392.7,161.3"/><path d="M353.9,140 354,143.4 355.2,146.6 356.3,149.7 356.7,153.1 357.6,156.3"/><path d="M347.6,172.5 346.9,176.3 346.5,180 346.7,183.5 348.4,186.7 349,190.2 346.4,193.6 344.7,197.5 344.8,201.1 343.7,204.3 342.6,207.6 345,211.1 345.9,215 345.5,218.8 345.3,222.5 346.6,226.3 348.1,230 349.4,233.1 350.1,236.5 353.8,237.7 357.7,239.5 361.4,238.8 365.4,238 367.7,235.3 370.1,232.7"/><path d="M300,246.4 303.7,245.3 307.4,245.1 310.4,244.1 312.8,242.3 315,240.6 318.4,240.9 321.7,240.8 324.7,240 327.4,237.2 329.2,233.9 330.1,230.4 333.9,229.7 337.5,229.5 341.3,230.1 344.5,230.7 347.6,233.3 350.1,236.4"/></g>
<g fill="none" stroke="#6a6560" stroke-width="1.15" stroke-linejoin="round" clip-path="url(#c_uH)"><path d="M137.6,286.3 142.1,288.1 145.2,290 147.7,292.5 150.1,294.4 152.5,296.5 156.6,296.7 159.7,298.5 163.1,296.1 164.5,292 168.1,290.6 170.6,288.1 172.6,285.1 174.9,283 176.6,280.4 177.5,277.4 180.6,272.9 182.7,270"/><path d="M187.7,271.3 190.5,272.7 192.8,274.8 196.6,275.7 200.4,277.3 202.1,280.6 205,282.5 205.5,285.9 205.9,289.2 204.6,292.6 204.2,296 203.8,299.5 205.3,303.2 203.7,306.6 204.3,310.1 204.1,313.5 203.1,316.8 203,320.3 200.1,323.5 199.5,327.8 197.9,331.5 197,335.4 194.8,338.8 193.9,342.7 190.8,345.8 187.5,348.2 184.3,349.6 181,350.5 177.6,350.8 174.5,351.6 171.3,351.3 168.2,352.1 165,352.3 161.3,353.9 157.9,355.8 154.4,356.3 150.7,357.6 150.3,361.4 149.3,365.5 151.8,368.8 152,372.9 154.4,376.2 155.1,380"/></g>
<g fill="none" stroke="#6a6560" stroke-width="1.15" stroke-linejoin="round" clip-path="url(#c_uH2)"><path d="M136.8,286.7 142.4,286.9 144.8,289 147.1,291.3 150.5,293.9 153.3,297.3 158.5,298.4 162.2,295.7 164.2,293.2 166.4,291.2 170,289.2"/></g>
<g fill="none" stroke="#6a6560" stroke-width="1.15" stroke-linejoin="round" clip-path="url(#c_uI1)"><path d="M180,207.5 184.5,204.7 188,208.1 189.2,212 191,215.4 194.9,220 194.9,225.2 197.4,227.7 199.7,230.3 201.2,232.9 203.3,235.7 206.7,235.8 210.1,235.5 213.4,235 217.5,234 221.9,233.4 225.9,235.2 230.1,235 233.3,233.7 236.9,232.6 241.3,233.5 245,231.6 247.7,229.3 250.7,227.1 252.2,224.5 253.4,221.5 256.8,220.2 260,218.4"/><path d="M203.4,235.1 200.6,238.3 197,240.6 191.8,243.4 190.8,248.3 190,250.1"/><path d="M241.8,234.2 242.3,237.2 243,240.6 246.2,242.4 248.7,245 250.1,250.1"/></g>
<g fill="none" stroke="#6a6560" stroke-width="1.15" stroke-linejoin="round" clip-path="url(#c_uI2)"><path d="M266.7,200 267.6,203.3 267.6,206.6 268.1,210.1 266.6,215.3 263.3,216.5 260,217.5"/><path d="M266.7,215.9 268.8,218.8 271.6,220.1 276.7,220 281.8,221.9 286.3,218.9 287.9,222.2 290.9,224.8 291.6,229.4 295,230.6 298.1,231.7 299.6,235 299.1,238.4 296.9,241.8 296.8,244.6 301.7,246.8 305.1,246.4 308.5,247.2 313.4,245.1 314.2,240.8 320,240.3 325.1,240.1 327.1,245.2 327.3,241.6 328.4,238.2 330.1,235.1 331.5,232.2 332.8,229.9 336.4,228.7 340,227.6"/><path d="M296.7,241.8 293.9,244.2 294.5,250.1 293.1,255.4 290.7,257.4 291.2,260.5 292,263.4 293.2,266.9 294.8,270.3 297.3,272.3 298.5,275.2 300.1,280"/></g>
<g fill="none" stroke="#6a6560" stroke-width="1.15" stroke-linejoin="round" clip-path="url(#c_uJ)"><path d="M187.5,270 189.6,272.2 192.3,273.6 194.5,275.5 197.1,277.9 200,280 202.8,282.2 205.4,284.9 207.6,290"/><path d="M207.6,311.3 206.7,314.2 205.2,317 205.3,320.4 202.2,321.6 200.3,324.2 197.9,327.3 195.8,330.4 193.9,333.9 192,337.5 192,341.4 191.2,345 188.6,348.3 185.2,350.5 180,352.7"/><path d="M235.1,312.6 235.9,315.9 237.6,319.1 237.5,322.2 241.4,322.6 244.6,320.9 248,319.2 250.3,316.5 252.7,313.3 256.5,313.9 260.1,315.4 263.3,316.5 266.7,317.6 266.3,321 267.2,324.3 267,327.9 269.6,330.8 271.1,334.2 272.1,337.8 274.3,341.3 274.8,345.5 276.4,348 278.3,350.4 280,352.7 278.9,356.3 279.4,360.5 276.4,362.2 274.6,365.5 277.7,370.2"/><path d="M243.9,270 244.7,273 245.8,275.9 244.5,279.1 245.2,282.1 246.4,285"/><path d="M292.7,270 295,272.7 297.1,275.6 300,277.5"/></g>
<g fill="none" stroke="#6a6560" stroke-width="1.15" stroke-linejoin="round" clip-path="url(#c_uK)"><path d="M290,255 291.9,259.9 292.2,263.7 292.7,267.4 294.7,270.6 296.4,274 297,278 299.1,280.1 301,282.5 302.5,284.9 305.6,286.1 308.6,286.6 312.1,288.7 315.8,291.2 316,294.4 316.6,297.8 314.9,301 312.4,303.8 309.5,305.1 307.4,307.5 305.4,309.9 302.9,311.5 299.3,312.2 296.7,317.9 299,321.3 300.1,325.2 301.6,328.8 302.3,332.9 304.5,335.7 307.5,337.9 311.3,338.1 315.2,336.8 318.7,338.9 322.6,339 326.2,337.5 330,337.4 335,335.6 340.3,335.9 343.6,338.8 347.5,340.4 351.2,342.3 354.9,344.6 360.8,345.5 362.4,340.5 359.7,338.8 357.8,336.2 354.3,332.8 354.1,329.5 355,326.3 359.1,325.1 362,322.4 363.2,318.6 365.6,315.8 367.8,312.5 371.1,311 374.1,308.8 377.6,307.5 380.4,306 382.2,303.8 382.6,300.6 383.9,297.6 386.9,295.9 390.2,295.2 395.2,296.3"/><path d="M333.8,335.2 336.4,331.3 340.5,334 338.8,337.1 335.1,337.7"/><path d="M290,313.9 294.9,313.5 300,312.6"/></g>
<g fill="none" stroke="#6a6560" stroke-width="1.15" stroke-linejoin="round" clip-path="url(#c_uL)"><path d="M195.2,330 194.4,333.1 194.7,336.4 192.6,339.2 193.1,342.8 190.7,344.8 188.5,347 187.7,350.5 183.8,350.3 180.2,352.1 176.7,350.9 173.4,351.8 170,352.1 167,354.2 163.5,354.4 160,354.9 156.5,356.8 152.1,357.5 152,360.9 152.2,364.3 150.7,367.4 150,372.8 153.4,373.4 156.6,375 157.6,380.1"/><path d="M240,381.4 236.7,381.1 233.5,381.1 230.3,381.5 224.9,383.8 225.1,387 224,389.8 222.7,392.6"/></g>
<g fill="none" stroke="#6a6560" stroke-width="1.15" stroke-linejoin="round" clip-path="url(#c_uL2)"></g>
<g fill="none" stroke="#6a6560" stroke-width="1.15" stroke-linejoin="round" clip-path="url(#c_uM)"><path d="M262.6,310 264.5,313.1 264.8,316.8 265.9,320.1 267.2,323.5 268.6,326.7 270.4,329.9 270.9,333.4 271.9,336.7 273.1,339.7 274.3,343 277.3,344.7 279.3,347.5 279.1,351.4 279.6,354.7 278.6,358.1 275.6,359.8 274.2,363 269.8,364.4 265.1,367.6"/><path d="M235,310 236.9,313.5 236.7,317.9 239.9,322.1 244.9,320.9 250.7,319 251.1,315.5 252.6,312.5"/><path d="M280.1,310 283,312.1 285.1,314.6 288.5,315.8 291.8,315.1 295.2,315 297.8,313.4 299.8,311.1 302.7,310"/><path d="M297.7,317.5 298.8,321.3 299.8,325.1 301.9,328.2 302.4,331.6 302.5,335.8 306.5,336.3 310,337.2 315.2,335.3 318.6,335.7 322.1,336 324.8,338.3 330,339.9 332.7,337.6 335,334.9 337.7,332.5"/><path d="M225,382.6 228.3,383.2 231.7,382.4 235.1,382.3 238.8,383.8 242.5,385.2"/></g>
<g fill="none" stroke="#6a6560" stroke-width="1.15" stroke-linejoin="round" clip-path="url(#c_uN)"><path d="M380.1,290 379.2,293.3 379.4,296.7 380.7,299.4 382.1,303 385,304.9 383,307.2 380.3,308.6 377.5,309.7 373.6,310.5 369.7,312.1 367.8,315.2 365.1,317.6 362.3,319.8 360,322.5 357.6,325.1 355.8,327.9 354.2,330.9 358.2,334.8 360.5,340.5 357.4,342.4 355.1,345 350.1,342.6 346.3,343.2 342.2,344.4 338.5,342.5 335.1,339.9 330.4,338 327.4,338.2 323.8,336.9 320,336.3"/><path d="M333.8,333.8 337.9,332.3 340.4,337 337.1,338.4 333.8,333.8"/></g>
<g fill="none" stroke="#6a6560" stroke-width="1.15" stroke-linejoin="round" clip-path="url(#c_uO)"></g>
<g fill="none" stroke="#6a6560" stroke-width="1.15" stroke-linejoin="round" clip-path="url(#c_uP1)"><path d="M146.7,290 148.2,295.4 153.3,298 158.5,298.6 163.1,295.1 168.3,293.2 170.1,290"/><path d="M190,347.6 184.9,347.7 180.1,350.1 176.7,350.2 173.3,350.2 170.1,351.4 167,353.1 161.8,353.6 156.7,353.9 152.2,356.2 150.9,360 151.2,365.3 150.1,370"/></g>
<g fill="none" stroke="#6a6560" stroke-width="1.15" stroke-linejoin="round" clip-path="url(#c_uP2)"><path d="M206.7,311.7 203.5,316.7 201.9,322.1 198.6,323.5 196,328.4 196.9,333.9 192.7,334.9 191.5,340 189.4,344.5 186.6,348.3 183,350.5 180,347.6"/><path d="M235.1,311.7 236.3,315 236.2,318.2 238.5,322.7 243.8,322.3 248.9,319.6 252.5,315.4 253.5,311.7"/></g>
<g fill="none" stroke="#6a6560" stroke-width="1.15" stroke-linejoin="round" clip-path="url(#c_uP3)"><path d="M150,366.7 151.3,363.5 151.7,360 154,357.3 156.5,354.4 159.8,353.3 163.5,353.8 166.7,352.7 169.9,351.3 173.3,350.6 176.6,349.9 180,350.3 183.4,350"/><path d="M150,366.7 150.5,370 149.6,373.9 155.7,376.4 156.7,381.7"/><path d="M220.1,386.7 223.5,383.4 226.7,382.5 230,381.7"/></g>
<g fill="none" stroke="#6a6560" stroke-width="1.15" stroke-linejoin="round" clip-path="url(#c_uP4)"><path d="M265.1,320 266.5,323.5 268.9,326.5 270,330.1 272.2,333.3 272.8,336.7 273.8,339.7 274.6,342.9 276.8,345.1 280.9,347 278.4,351.7 281.3,354.7 280.7,358 278,359.7 275,363.1 270.1,365.1"/><path d="M236.7,320 238.3,322.9 241.8,323.7 246.7,321.7"/><path d="M296.8,320 299.3,323 300.3,326.6 303.5,330"/><path d="M225,381.8 228.2,383.2 231.7,383.9 235.1,383.5 238.4,382.8 243.4,381.8"/></g>
<g fill="none" stroke="#6a6560" stroke-width="1.15" stroke-linejoin="round" clip-path="url(#c_uQ1)"><path d="M293.3,270 296,273.2 297.8,276.8 299.8,279.9 299.4,283.1 298.5,287.3 301.7,285.8 304.9,285.1 308.2,287 312.2,287.7 317.3,291.8 315.4,294.9 315.5,298.5 313.5,303.5 310.6,305.6 308.2,308.1 306.3,310.8 303.5,312 298.8,315.3 296.8,318.4 298.5,321.7 300.2,325 301.2,330.3 303.4,333.4 304.9,337 308.5,337.1 311.6,338.2 315,337.6 318.4,337 321.8,337.5 325.2,339 330.2,337.4 332.9,338.4 334,334.8 336.8,332.6 339.6,333.9 338.2,336.4 335.3,338 339.9,340.9 343.3,341.6 346.7,342 351.8,343.5 357.1,345.8 360.4,343.6 361.9,340 358.1,337.5 355.1,335.1 353.9,330.5 356.7,326.7 360.8,322.2 361.6,319.2 363.5,316.7 366.9,316.1 370,314.3"/><path d="M290,312.6 295.1,314.3 296.7,318.4"/></g>
<g fill="none" stroke="#6a6560" stroke-width="1.15" stroke-linejoin="round" clip-path="url(#c_uQ2)"><path d="M395.1,295.1 390.2,295.6 385.1,295.7 380.7,295.2 379.6,298.6 383.2,301.8 383.4,305.1 380.2,309.1 376.7,309.4 374,310.7 369.8,312.8 364.7,314.5 360,317.6"/></g>
<g fill="none" stroke="#6a6560" stroke-width="1.15" stroke-linejoin="round" clip-path="url(#c_uQ3)"><path d="M300,245.9 303.3,244.8 306.6,244.9 311.3,243.1 313.5,241.2 316.7,240.1 321.7,241 324.5,240.3 326.8,245.1 328.1,241.8 329.6,238.5 329.6,234.9 331.2,232 335,229.2 340,229.4 343.1,231.6 348.7,233.3 350.3,238.1 353.5,240.2 357.3,236.1 360.1,239.2 363.2,239.5 368.5,237.6"/><path d="M343.4,200 342.8,203.3 341.9,207.1 345.5,210.9 348.7,213.5 346.7,218 348.7,223.5 347.1,226.6 348.4,230.9"/></g>
<g fill="none" stroke="#6a6560" stroke-width="1.15" stroke-linejoin="round" clip-path="url(#c_uQ4)"><path d="M291.8,250 293.5,253.1 294,257.1 291.6,259.1 290.1,261.7 291.6,266.9 294.5,269 296.4,271.8 297.4,275.1 298,278.3 298,281.8 296.8,285.1 301.6,284.4 307,283.1 310,285.1"/><path d="M276.8,305.1 278.4,308.5 279.9,312.4 285.1,314.3 288.5,313.9 291.9,313.1 296.7,315 300.4,312.1 303.8,309.1 307.2,307.5 310,305.1"/><path d="M296.8,315.1 298.7,320.1 299.3,323.4 299.1,326.8 300.1,330"/><path d="M230,326.8 233.4,324.3 237.3,322 238.4,316.7 242.4,315.3 246.6,314.9 251.7,311.8"/><path d="M263.4,313.5 268.3,316.8 266.4,320 265.3,323.4 266.9,327.3 270.1,330"/></g>
<g fill="none" stroke="#6a6560" stroke-width="1.15" stroke-linejoin="round" clip-path="url(#c_uR)"></g>
</g>
<path d="M359.2,19.2 363.4,21.7 366.7,25 365.9,28.4 370.9,31.7 371.7,35.1 370.9,37.6 373.4,39.2 365.9,41.7 365.1,45.9 361.7,46.7 356.7,55.1 351.7,64.3 356.7,68.5 356.7,78.5" fill="none" stroke="#9a9a9a" stroke-width="2" stroke-linejoin="round"/>
<path d="M365.1,45.9 365.1,53.4 369.2,59.3 375.9,63.4 376.7,68.5 375.1,73.5 373.4,78.5" fill="none" stroke="#9a9a9a" stroke-width="2" stroke-linejoin="round"/>
<path d="M406.4,255.8 412.6,254 419.7,252.3 425,249.6 430.3,252.3 435.7,248.7 441,243.4 442.8,234.5 448.1,225.6 451.6,224.8 453.4,232.7 458.7,239.8 470,241.6" fill="none" stroke="#9a9a9a" stroke-width="2" stroke-linejoin="round"/>
<path d="M415.5,171 420.2,171.3 430.2,170 440.2,168.8 447.7,166.3 453.4,160.1 463.5,163.5 470,165" fill="none" stroke="#9a9a9a" stroke-width="2" stroke-linejoin="round"/>
<g fill="none" stroke="#aba397" stroke-width="0.9"><ellipse cx="244.2" cy="115" rx="6.2" ry="5.4"/><ellipse cx="243" cy="114.8" rx="3.3" ry="1.8"/><path d="M241.7,109.2 L242.5,112.6 M242.5,116.7 L242.1,120 M245.9,115 L250,116.7 M238.4,109.2 L241.7,109.2 L250,107.5"/></g>
<path d="M250.1,2.5 251,5.4 252.2,8.4 251.4,11.7 251.8,14.9 254.3,17.4 256.8,19.7 259.2,20.5 261.5,20.6 264,19.3 266.7,18.3 270.8,20 271.5,22.8 271.4,25.6 271.8,28.3 275.1,31.4 277.6,30.5 279.8,31.3 282.7,32.9 285.1,35.1 285.8,37.5 285.9,40.3 288.4,39.5 290.9,39.3 293.6,38.8 296.8,40.4 299.7,42 300.5,44.5 301.6,46.7 301.3,49.8 303,53.3 302.6,57.2 305.5,57.5 308.6,57.3 311.1,57.7 313.4,58.4 316.3,56.2 318.6,53.4 320.2,49.5 323.8,48.4 323.6,51.1 323.5,53.8 323.5,56.6 323.6,59.3 324.1,61.8 326.3,63.8 329.1,64.8 331.3,66.8 334,68 335.8,69.8 336.9,72.1 338.5,74 339.8,76.4 342.7,76.8 344.9,78.2 348.5,78.1 351.6,77.1 354.3,77.3 356.7,78.2 359.2,78.9 361.6,79 364.2,78.7 366.8,78.1 370,79.1 373.5,78.9 376.4,80.3 379.6,83.5 381,86 382.3,88.6 384.7,90.4 386.7,92.7 389.2,92.4 391.7,91.7 394.4,92.6 396.7,94.3 400.1,94.4 403.4,95.1 405.9,94.1 408.3,93.8 411,93.9 413.2,95.2 415.8,96.9 418.4,98.5 420.9,98 423.5,98.1 425.8,99.6 428.5,99.7 431.1,100.1 433.6,100.8 435.1,102.5 432.6,106.7 431.8,109.4 430.5,112 428.5,113.8 427,116.1 425,117.9 423.1,120 423,123.5 421.8,126.8 421,130.1 419.8,133.3 418.8,136.6 418.5,140.1 417.8,143.5 416.4,146.7 416.8,150.2 416.1,153.5 416.5,156.7 417.1,160.1 416.2,162.5 415.9,165 415.7,167.5 415.1,170 414.1,172.6 413.8,175.4 413.1,178.4 410.3,178.7 407.7,179.6 405,179.9 401.2,179.2 399.4,182.1 398.1,184.9 398.1,188.1 396.5,190.5 394.6,192.6 392.8,194.9 391.3,196.9 389.6,198.8 388.4,201.1 386.7,203 385.1,205.1 383.5,207 381.9,209 380.4,210.9 379.4,213.2 377.6,215.6 375.8,217.9 374.9,220.7 372.8,223 372.8,225.5 373.1,228 373.1,230.5 373.2,233.1 371.5,235.2 370.4,237.7 369.2,240.1 367.9,243.5 371.5,243.3 375.4,243.2 376.5,240.4 377.8,237.7 379.2,235.4 381.1,233.6 383.7,233.1 386,231.7 389,231.9 392,231.7 395.1,231.9 395.9,235.2 397.3,238.1 398.3,240.5 400.1,242.6 401,245.1 401.6,247.7 403.4,249.8 405,252.8 406.7,256.3 402.9,258.7 399.3,261 399.1,263.8 399.3,266.1 401.6,267.9 403.7,270 405.6,272.7 408.1,274.9 410,277.8 412.2,280.8 411.7,283.4 411.3,286.2 408.2,289.7 406,291.2 404,293.1 401.3,293.1 398.7,294.3 396,294.2 393.7,294.9 395,297.6 396.7,300.1 399.1,302.7 401.9,305 404.3,307.6 406.6,310.3 408.7,312.4 410.1,315.1 408.4,317.6 406.5,320 406.3,323.5 405.2,326.8 406.4,329.1 406.7,331.9 410,335.5 413.5,336.3 416.8,338 419.3,338.3 421.9,338 424.3,338.9 427.1,338.9 429.9,341.2 432.4,343.3 432.6,346 431.7,348.4 430.9,351.1 429.7,353.4 428.9,356.4 429.5,359.3" fill="none" stroke="#9a9a9a" stroke-width="2"/>
<path d="M274,435 271,434.2 268,434.2 265.4,433.7 262.8,434.1 260.2,433.3 257.6,432.9 255,432.7 252.5,433 250,433 247.5,432.4 245,432.5 242.5,432.4 240,432.3 237.3,431.9 234.7,431.5 232,431.6 229.3,431.2 226.7,430.9 224,430.7 220.4,431.3 216.6,431.3 214.3,432.6 211.8,433.5 209.9,431.5 208.2,429.3 206,427.6 204.2,425.5 201.7,424.2 200,422.1 198.1,420.2 196.1,418.6 194.2,416.9 191.9,415.8 189.9,414.1 186.8,411 184.3,411.5 181.9,412.2 179.3,412.7 176.6,413.3 174.1,414.9 171.8,417.1 169.2,417.5 166.7,418.2 164.1,418.3 161.5,418 159,416.7 156.7,414.9 154.3,414.3 151.6,414.4 149.1,412.3 146.7,410 143.4,411.1 139.7,412.1 137.8,410 136.1,407.9 134,406 131.2,405.3 128.4,404.5 125.5,403.9 122.9,402.5 120,402.1 117.6,401.3 115.1,401 112.7,400.2 110.2,399.8 106.4,398.7 105.1,395.1 105.5,392.1 103.5,388.3 100.8,387.9 98.6,386.4 94.9,385.3 93.4,382.6" fill="none" stroke="#9a9a9a" stroke-width="2"/>
<path d="M429.5,359.3 426.9,361.6 424.8,363 422.4,363.8 419.3,365.6 416.2,366.8 414.4,370.5 411.7,371.4 409.5,372.9 407.8,374.6 406.5,377.4 404.8,379.8 403.6,382.2 401.6,383.9 400.2,386.2 397.6,388 395.6,390.3 393.8,392.6 391,394.1 388.4,395.9 384.9,396.8 381.8,398.4 378.5,397.1 375.9,397 373.5,397.3 370.8,397.7 368.2,397 365.2,393.3 362.7,391.6 360.3,389.9 357.8,388.3 355.2,386.9 352.5,385.6 350.1,383.5 347.4,383.8 345,383.1 342.5,382.3 340,381.8 337,382.3 333.9,382.7 330.9,382.8 328.1,383.2 324.5,382.4 321.5,380.9 318.1,380.5 314.9,381 312.5,382.2 309.9,382.8 307.2,383.1 304.7,384 302.2,385 299.5,385.4 296.8,385.9 294.1,386.2 291.5,387.1 288.9,387.4 286.5,388 284.2,389.3 281.8,389.9 279.3,390.7 276.6,391.5 274.2,393.2 271.8,395 268.2,398.3 268.1,401 266.4,403.5 267.2,406 268.2,408.5 269.5,410.8 270,413.4 271.5,416.6 272.1,420 272.6,422.6 272.6,425.3 273.2,428 273.9,431.4 274,435" fill="none" stroke="#69c5e6" stroke-width="1.9" stroke-linejoin="round"/>
<path d="M93.4,382.6 96.7,380.9 99.2,379.2 102,377.8 103.5,375.6 105.5,373.5 105.7,370 106.3,366.6 107,364.1 107.5,361.6 108.8,359.3 109.4,356.7 110.1,354.3 110.8,351.8 110.8,349.1 111.4,346.6 112.5,344 112.4,341.1 113.2,338.4 114.1,335.2 114.8,332 115,329.4 115.5,326.9 116,324.4 115.8,321.7 118.4,319.1 121.4,319.2 123.9,320.3 121.7,316.1 119.1,314.2 117.3,315.1 117.5,312.3 118.3,309.6 118.6,306.8 118.7,304 118.6,301.2 118.9,298.4 119.2,295.9 120,293.4 120.3,290.9 119.6,288.4 120.7,285.9 120.9,283.4 121,280.9 120.7,278.3 122.3,275.4 124.9,276.9 128.7,279.8 132.2,283.3 132.8,286.1 133.4,289 134.8,291.6 134.7,295.2 135.8,298.6 137.6,299.3 136.8,295.1 135.6,291.8 135.3,288.3 134.5,285 133.1,282 130.3,278.2 127.5,276.4 125.3,273.8 122.5,273.1 119.9,271.9 117.3,268.4 117.8,265.9 118.2,263 121.4,261.6 123.4,257 124.3,253.6 125.1,250.1 121.5,246.9 120.5,244.5 119.9,241.6 123.3,238.1 119.9,239.6 117.7,237.9 115.1,236.8 112.7,235 110.3,233 106.6,232 103.6,230 101.3,227.6 99.1,225.1 97.9,221.8 96.5,218.6 94.7,216.1 93.7,213.1 91.8,211.2 89.7,209.1 91.9,205.3 94.9,201.9 91.8,198.3 89.2,197.1 87,196 88.3,191.6 90.4,189.9 91.6,187.3 88.4,188.5 85.1,188.8 81.5,188.6 79.4,187 77.5,185 79,182.6 80.2,179.8 78.5,177.9 76.8,175.3 73.5,173.7 70,173.2 66.7,175.1 64.2,176.7 61.9,178.5 60.3,175 58.5,172.6 56.6,170.3 53.3,166.9 50,163.7 46.7,161.2 44.4,159.8 41.9,159.1 38.5,158.3 35.1,157.6 31.7,154.3 28.6,155.5 25.1,156.8 22.1,157.1 19.1,157.6 18.4,153.4 17,148.9 13.5,146.4 10.8,146.4 8.8,145.3 10.1,142.9 12.6,142 15,141.2 17.5,140.6 19.7,140.6 22.6,138.3 20,134.8 17.5,135.5 14.8,135.5 11.9,133.8 15.1,132.1 17.5,131.1 20.2,131.2 22.3,129.3 21.5,126.4 18.6,128.8 15.9,129.6 13.3,131.2 9.3,130 7,126.7 7.6,124.2 7.2,121.4 10,119.1 12.3,117.6 15,116.6 17.4,116 20,115.7 22.5,115.4 25.1,115.2 27.6,114.3 30.1,113.4 32.6,113.8 35.1,113.3 37.8,114.3 40.1,116.1 42.6,116.2 45.4,117 47.5,113.4 49.3,109.5 53.4,109.9 56.1,109.6 58.5,108.4 61,108.7 63.6,108.3 65.5,110.1 68,111.5 69.1,114.1 70.4,116.5 71.9,119.1 73.6,121.6 76.7,125 79.3,123.5 81.6,121.5 84.1,120.6 86.9,119.5 89.3,120.5 91.6,121.6 94.4,120.8 96.7,118.9 100,118.7 103.7,118 105.9,120.1 108.4,121.6 111.8,121.5 115.1,121.6 119.1,121.1 117.1,118.9 114.8,116.9 114.4,115.1 115,111.8 115.4,108.4 114.6,105.6 114,102.9 114.5,100 113.6,97.3 113.1,94.5 112.6,91.6 111.5,89.1 110,86.7 108.3,83.4 106.3,80.1 105.8,76.8 105.5,73.5 104.7,71 104.1,68.8 108.4,69.3 111.1,70 113.4,71.5 115.9,71.2 118.4,71.2 121.7,70.4 125.1,70 127.8,71.7 127.3,74.2 127.1,76.6 127.3,79.3 128.4,81.7 130.1,86.1 132.9,86.2 135.7,86 138.4,86.5 141.2,87.1 143.9,88.1 146.8,88.3 150,89.7 153.3,90.4 156.7,91.1 160.1,91.7 163.5,90.2 166.7,88.2 170,86.8 173.6,86.2 176.8,85.1 174.5,83.4 172,82.5 170.2,78.4 170.9,75.9 171.9,73.5 173.3,71.1 175.2,69.1 177.5,68.2 180.1,67.8 182.6,67.2 184.8,65.6 187.6,64.4 190.5,63.6 193.5,62.8 196.1,61.4 199,60.6 201.9,59.7 204,58 206.3,56.6 208.2,54.8 211,53.1 213.5,51 216.1,46.5 218.4,47.9 221,48.3 219.6,46 217.7,44.3 216.5,41.4 216.3,38.4 216,35.6 216.3,32.9 217,30.1 217.3,27.3 217.7,24.5 218,21.7 217.1,18.4 217.4,14.8 220.1,11.8 223.4,10.2 226.9,9.5 229.6,8.9 232.4,8.3 235.2,7.9 238,6.9 240.8,6.3 243.5,5 246.7,3.4 250.1,2.5" fill="none" stroke="#69c5e6" stroke-width="1.9" stroke-linejoin="round"/>
<path d="M0,373 2.5,372.8 5,372.9 7.5,372.4 10,371.8 12.6,372.1 15.1,372.6 17.6,373.1 20,374.2 22.5,374.3 25,374.9 27.4,376 30,375.8 32.5,376.7 35,376.9 37.5,377.4 40,377.9 42.5,378.7 45.1,379.1 47.5,380.4 50,381.1 52.5,380.6 55,381.5 57.5,381.5 60,380.8 62.5,381.2 65,382.1 67.5,382.2 70,382.7 72.5,383.3 75,383.6 77.5,383.6 80,384.3 83.4,384.2 86.7,383.8 90.1,383.4 93.4,382.6" fill="none" stroke="#69c5e6" stroke-width="1.9" stroke-linejoin="round"/>
<path d="M274,435 276.5,438.3 275,440.9 274,443.6 273.2,446.8 272.4,450 271.6,452.8 270.5,455.4 268.4,457.5 266.6,459.8 264.5,461.3 262.7,463.2 260.9,465 259.2,467 256.9,468.2 254.7,469.7 253,471.8 251,473.6 249.3,475.7 247.1,477.3 245,479" fill="none" stroke="#69c5e6" stroke-width="1.9" stroke-linejoin="round"/>
<path d="M429.5,359.3 432.2,358.1 434.9,356.9 437.3,355.2 440.2,354.2 442.1,352.1 444,350 445.8,347.8 448.1,346.1 449.7,343.7 451.9,341.9 454.3,340.3 456.3,338.3 458.3,336.3 459.8,333.8 462.3,332.7 464,330.8 465.8,328.9 468.2,327.9 470,326" fill="none" stroke="#69c5e6" stroke-width="1.9" stroke-linejoin="round"/>
<path d="M250.1,2.5 256.8,0" fill="none" stroke="#69c5e6" stroke-width="1.9" stroke-linejoin="round"/>
<defs><filter id="blur" x="-50%" y="-50%" width="200%" height="200%"><feGaussianBlur stdDeviation="1.7"/></filter>
<linearGradient id="tg" x1="0" y1="0" x2="0" y2="1"><stop offset="0" stop-color="#ff9a00"/><stop offset="0.55" stop-color="#ff9000"/><stop offset="0.85" stop-color="#ff6a10"/><stop offset="1" stop-color="#ff5a12"/></linearGradient></defs>
<g>
<g filter="url(#blur)" fill="#b3ac96" opacity="1">
<rect x="417.6" y="11.2" width="14.6" height="48" rx="7.3"/>
<circle cx="424.9" cy="60.2" r="12.3"/>
</g>
<rect x="420.9" y="14.3" width="8.1" height="43" rx="4" fill="url(#tg)"/>
<path d="M420.9,18.3 A4.05,4.05 0 0 1 429,18.3 L429,20.3 L420.9,20.3 Z" fill="#ffffff"/>
<ellipse cx="424.95" cy="60.1" rx="8.6" ry="9.2" fill="#ff5c12"/>
</g>
<rect x="181.4" y="250.1" width="35" height="20.6" fill="#df322b"/>
<text x="199.20000000000002" y="264.8" text-anchor="middle" font-family="Liberation Sans" font-size="15" fill="#fff" stroke="#fff" stroke-width="0.25" textLength="28.5" lengthAdjust="spacingAndGlyphs">17,7</text>
<rect x="220.5" y="249.5" width="35" height="20.6" fill="#df322b"/>
<text x="238.3" y="264.2" text-anchor="middle" font-family="Liberation Sans" font-size="15" fill="#fff" stroke="#fff" stroke-width="0.25" textLength="28.5" lengthAdjust="spacingAndGlyphs">21,9</text>
<rect x="246.7" y="271.2" width="35" height="20.6" fill="#df322b"/>
<text x="264.5" y="285.9" text-anchor="middle" font-family="Liberation Sans" font-size="15" fill="#fff" stroke="#fff" stroke-width="0.25" textLength="28.5" lengthAdjust="spacingAndGlyphs">18,1</text>
<rect x="205.5" y="291.2" width="35" height="20.6" fill="#df322b"/>
<text x="223.3" y="305.9" text-anchor="middle" font-family="Liberation Sans" font-size="15" fill="#fff" stroke="#fff" stroke-width="0.25" textLength="28.5" lengthAdjust="spacingAndGlyphs">19,5</text>
<rect x="242.4" y="293.1" width="35" height="20.6" fill="#df322b"/>
<text x="260.2" y="307.8" text-anchor="middle" font-family="Liberation Sans" font-size="15" fill="#fff" stroke="#fff" stroke-width="0.25" textLength="28.5" lengthAdjust="spacingAndGlyphs">15,6</text>
<rect x="299.6" y="345.4" width="35" height="20.6" fill="#df322b"/>
<text x="317.40000000000003" y="360.09999999999997" text-anchor="middle" font-family="Liberation Sans" font-size="15" fill="#fff" stroke="#fff" stroke-width="0.25" textLength="28.5" lengthAdjust="spacingAndGlyphs">21,7</text>
<rect x="243.0" y="366.4" width="35" height="20.6" fill="#df322b"/>
<text x="260.8" y="381.09999999999997" text-anchor="middle" font-family="Liberation Sans" font-size="15" fill="#fff" stroke="#fff" stroke-width="0.25" textLength="28.5" lengthAdjust="spacingAndGlyphs">25,4</text>
<rect x="280.3" y="368.1" width="35" height="20.6" fill="#df322b"/>
<text x="298.1" y="382.8" text-anchor="middle" font-family="Liberation Sans" font-size="15" fill="#fff" stroke="#fff" stroke-width="0.25" textLength="28.5" lengthAdjust="spacingAndGlyphs">22,1</text>
<rect x="327.4" y="376.1" width="35" height="20.6" fill="#df322b"/>
<text x="345.2" y="390.8" text-anchor="middle" font-family="Liberation Sans" font-size="15" fill="#fff" stroke="#fff" stroke-width="0.25" textLength="28.5" lengthAdjust="spacingAndGlyphs">19,9</text>
<rect x="372.4" y="374.0" width="35" height="20.6" fill="#df322b"/>
<text x="390.2" y="388.7" text-anchor="middle" font-family="Liberation Sans" font-size="15" fill="#fff" stroke="#fff" stroke-width="0.25" textLength="28.5" lengthAdjust="spacingAndGlyphs">23,3</text>
<rect x="109.4" y="387.0" width="35" height="20.6" fill="#df322b"/>
<text x="127.2" y="401.7" text-anchor="middle" font-family="Liberation Sans" font-size="15" fill="#fff" stroke="#fff" stroke-width="0.25" textLength="28.5" lengthAdjust="spacingAndGlyphs">25,7</text>
<rect x="148.6" y="383.6" width="35" height="20.6" fill="#df322b"/>
<text x="166.4" y="398.3" text-anchor="middle" font-family="Liberation Sans" font-size="15" fill="#fff" stroke="#fff" stroke-width="0.25" textLength="28.5" lengthAdjust="spacingAndGlyphs">23,0</text>
<rect x="192.9" y="389.3" width="35" height="20.6" fill="#df322b"/>
<text x="210.70000000000002" y="404.0" text-anchor="middle" font-family="Liberation Sans" font-size="15" fill="#fff" stroke="#fff" stroke-width="0.25" textLength="28.5" lengthAdjust="spacingAndGlyphs">22,5</text>
<rect x="230.6" y="389.3" width="35" height="20.6" fill="#df322b"/>
<text x="248.4" y="404.0" text-anchor="middle" font-family="Liberation Sans" font-size="15" fill="#fff" stroke="#fff" stroke-width="0.25" textLength="28.5" lengthAdjust="spacingAndGlyphs">25,1</text>
<rect x="188.0" y="410.9" width="35" height="20.6" fill="#df322b"/>
<text x="205.8" y="425.59999999999997" text-anchor="middle" font-family="Liberation Sans" font-size="15" fill="#fff" stroke="#fff" stroke-width="0.25" textLength="28.5" lengthAdjust="spacingAndGlyphs">24,6</text>
<rect x="224.3" y="419.4" width="35" height="20.6" fill="#df322b"/>
<text x="242.10000000000002" y="434.09999999999997" text-anchor="middle" font-family="Liberation Sans" font-size="15" fill="#fff" stroke="#fff" stroke-width="0.25" textLength="28.5" lengthAdjust="spacingAndGlyphs">25,6</text>
<rect x="258.7" y="415.0" width="35" height="20.6" fill="#df322b"/>
<text x="276.5" y="429.7" text-anchor="middle" font-family="Liberation Sans" font-size="15" fill="#fff" stroke="#fff" stroke-width="0.25" textLength="28.5" lengthAdjust="spacingAndGlyphs">24,6</text>
<rect x="6.3" y="5.0" width="187.4" height="39.4" fill="#df322b"/>
<text x="9.3" y="20.4" font-family="Liberation Sans" font-size="16" fill="#fff" stroke="#fff" stroke-width="0.25" textLength="180.5" lengthAdjust="spacingAndGlyphs">RECORDS MENSUELS</text>
<text x="9.3" y="38.3" font-family="Liberation Sans" font-size="16" fill="#fff" stroke="#fff" stroke-width="0.25" textLength="112" lengthAdjust="spacingAndGlyphs">DE DOUCEUR</text>
<text x="6.5" y="59.8" font-family="Liberation Sans" font-size="14.5" fill="#222" textLength="165" lengthAdjust="spacingAndGlyphs">du 24 au 28 janvier 2024</text>
<g>
<rect x="0" y="400.8" width="77.7" height="78.2" fill="#0c1f3d"/>
<path d="M0,474.8 Q35,465.5 77.7,467.3 L77.7,479 L0,479 Z" fill="#2e62b0"/>
<text x="5.2" y="436.5" font-family="Liberation Sans" font-size="23" fill="#dcdcdc" stroke="#0c1f3d" stroke-width="0.7" textLength="65" lengthAdjust="spacingAndGlyphs">meteo</text>
<text x="5.2" y="458.8" font-family="Liberation Sans" font-size="23" fill="#f39200" stroke="#f39200" stroke-width="0.5" textLength="53.2" lengthAdjust="spacingAndGlyphs">Villes</text>
<text x="59" y="459" font-family="Liberation Sans" font-size="6.5" fill="#9aa3b5" textLength="16" lengthAdjust="spacingAndGlyphs">.com</text>
<text x="55.8" y="476.6" font-family="Liberation Sans" font-weight="bold" font-size="6" fill="#fff" textLength="19.5" lengthAdjust="spacingAndGlyphs">Officiel</text>
</g>
<rect x="463" y="0" width="0.9" height="479" fill="#f3ecd6" opacity="0.8"/>
<rect x="466.2" y="0" width="233.8" height="479" fill="#fde3e3"/>
<text x="490.6" y="28.05" font-family="Liberation Sans" font-weight="bold" font-size="15.2" fill="#831313" stroke="#831313" stroke-width="0.45" textLength="172.4" lengthAdjust="spacingAndGlyphs">RECORDS MENSUELS DE</text>
<rect x="490.6" y="30.150000000000002" width="172.4" height="1.0" fill="#831313"/>
<text x="486.9" y="48.4" font-family="Liberation Sans" font-weight="bold" font-size="15.2" fill="#831313" stroke="#831313" stroke-width="0.45" textLength="181.1" lengthAdjust="spacingAndGlyphs">DOUCEUR BATTUS ENTRE</text>
<rect x="486.9" y="50.5" width="181.1" height="1.0" fill="#831313"/>
<text x="480.8" y="69.3" font-family="Liberation Sans" font-weight="bold" font-size="15.2" fill="#831313" stroke="#831313" stroke-width="0.45" textLength="192.4" lengthAdjust="spacingAndGlyphs">DU 24 AU 28 JANVIER 2024</text>
<rect x="480.8" y="71.39999999999999" width="192.4" height="1.0" fill="#831313"/>
<text x="478.6" y="103.50" font-family="Liberation Sans" font-size="12.2" fill="#831313" stroke="#831313" stroke-width="0.4" textLength="184.9" lengthAdjust="spacingAndGlyphs">25,7°C à Licq-Atherey (64) le 28</text>
<text x="478.6" y="121.38" font-family="Liberation Sans" font-size="12.2" fill="#831313" stroke="#831313" stroke-width="0.4" textLength="141.5" lengthAdjust="spacingAndGlyphs">25,6°C à Vivès (66) le 25</text>
<text x="478.6" y="139.25" font-family="Liberation Sans" font-size="12.2" fill="#831313" stroke="#831313" stroke-width="0.4" textLength="203.3" lengthAdjust="spacingAndGlyphs">25,4°C à St-Jean-de-Min. (34) le 25</text>
<text x="478.6" y="157.12" font-family="Liberation Sans" font-size="12.2" fill="#831313" stroke="#831313" stroke-width="0.4" textLength="215.6" lengthAdjust="spacingAndGlyphs">25,1°C à Durban-Corbières (11) le 25</text>
<text x="478.6" y="175.00" font-family="Liberation Sans" font-size="12.2" fill="#831313" stroke="#831313" stroke-width="0.4" textLength="206.6" lengthAdjust="spacingAndGlyphs">24,6°C à Canet-en-Rouss. (66) le 26</text>
<text x="478.6" y="192.88" font-family="Liberation Sans" font-size="12.2" fill="#831313" stroke="#831313" stroke-width="0.4" textLength="183.2" lengthAdjust="spacingAndGlyphs">24,6°C à Ascou-Lavail (09) le 28</text>
<text x="478.6" y="210.75" font-family="Liberation Sans" font-size="12.2" fill="#831313" stroke="#831313" stroke-width="0.4" textLength="181.6" lengthAdjust="spacingAndGlyphs">23,3°C à Collobrières (83) le 24</text>
<text x="478.6" y="228.62" font-family="Liberation Sans" font-size="12.2" fill="#831313" stroke="#831313" stroke-width="0.4" textLength="149.2" lengthAdjust="spacingAndGlyphs">23,0°C à Tarbes (65) le 25</text>
<text x="478.6" y="246.50" font-family="Liberation Sans" font-size="12.2" fill="#831313" stroke="#831313" stroke-width="0.4" textLength="150.8" lengthAdjust="spacingAndGlyphs">22,5°C à Saint-Girons (09)</text>
<text x="478.6" y="264.38" font-family="Liberation Sans" font-size="12.2" fill="#831313" stroke="#831313" stroke-width="0.4" textLength="180.6" lengthAdjust="spacingAndGlyphs">22,1°C à Montpellier (34) le 24</text>
<text x="478.6" y="282.25" font-family="Liberation Sans" font-size="12.2" fill="#831313" stroke="#831313" stroke-width="0.4" textLength="168.9" lengthAdjust="spacingAndGlyphs">21,9°C à Aubusson (23) le 28</text>
<text x="478.6" y="300.12" font-family="Liberation Sans" font-size="12.2" fill="#831313" stroke="#831313" stroke-width="0.4" textLength="148.2" lengthAdjust="spacingAndGlyphs">21,7°C à Nîmes (30) le 26</text>
<text x="478.6" y="318.00" font-family="Liberation Sans" font-size="12.2" fill="#831313" stroke="#831313" stroke-width="0.4" textLength="174.9" lengthAdjust="spacingAndGlyphs">19,9°C à Marignane (13) le 24</text>
<text x="478.6" y="335.88" font-family="Liberation Sans" font-size="12.2" fill="#831313" stroke="#831313" stroke-width="0.4" textLength="213.3" lengthAdjust="spacingAndGlyphs">19,5°C à Brive-la-Gaillarde (19) le 28</text>
<text x="478.6" y="353.75" font-family="Liberation Sans" font-size="12.2" fill="#831313" stroke="#831313" stroke-width="0.4" textLength="184.0" lengthAdjust="spacingAndGlyphs">18,1°C au Mont-Dore (63) le 28</text>
<text x="478.6" y="371.62" font-family="Liberation Sans" font-size="12.2" fill="#831313" stroke="#831313" stroke-width="0.4" textLength="159.6" lengthAdjust="spacingAndGlyphs">17,7°C à Limoges (87) le 28</text>
<text x="478.6" y="389.50" font-family="Liberation Sans" font-size="12.2" fill="#831313" stroke="#831313" stroke-width="0.4" textLength="155.2" lengthAdjust="spacingAndGlyphs">15,6°C au Lioran (15) le 28</text>
<text x="501.1" y="427.0" font-family="Liberation Sans" font-size="12.2" fill="#831313" stroke="#831313" stroke-width="0.4" textLength="150.5" lengthAdjust="spacingAndGlyphs">Liste non-exhaustive. Des</text>
<rect x="501.1" y="429.2" width="150.5" height="1.1" fill="#831313"/>
<text x="507.1" y="444.8" font-family="Liberation Sans" font-size="12.2" fill="#831313" stroke="#831313" stroke-width="0.4" textLength="136.8" lengthAdjust="spacingAndGlyphs">dizaines de records ont</text>
<rect x="507.1" y="447.0" width="136.8" height="1.1" fill="#831313"/>
<text x="543.9" y="462.9" font-family="Liberation Sans" font-size="12.2" fill="#831313" stroke="#831313" stroke-width="0.4" textLength="63.2" lengthAdjust="spacingAndGlyphs">été battus.</text>
<rect x="543.9" y="465.09999999999997" width="63.2" height="1.1" fill="#831313"/>
</svg></body></html>
